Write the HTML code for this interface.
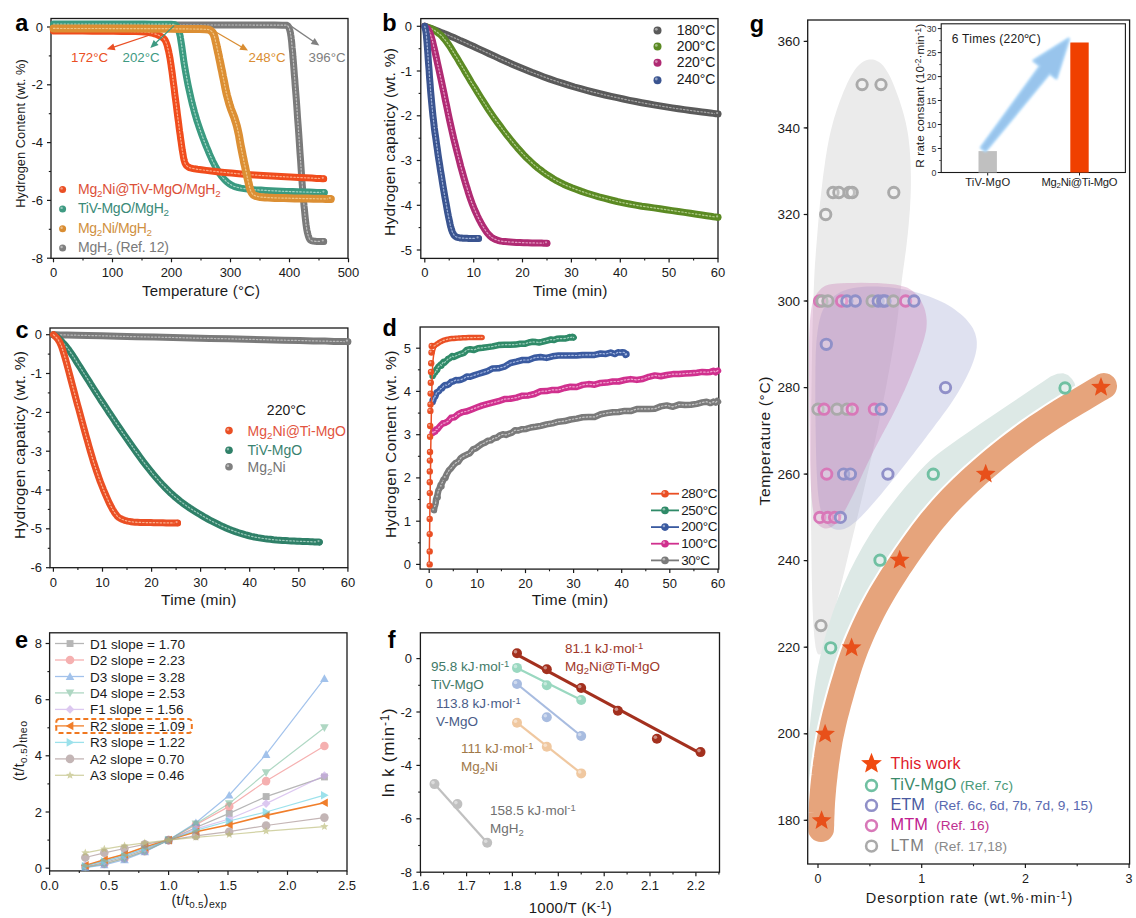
<!DOCTYPE html>
<html><head><meta charset="utf-8"><style>
html,body{margin:0;padding:0;background:#fff;}
svg{display:block;font-family:"Liberation Sans", sans-serif;}
</style></head><body>
<svg width="1136" height="918" viewBox="0 0 1136 918">
<rect width="1136" height="918" fill="#fff"/>
<rect x="51.0" y="18.5" width="297.0" height="239.8" fill="none" stroke="#1a1a1a" stroke-width="1.3"/>
<line x1="53.5" y1="258.3" x2="53.5" y2="262.3" stroke="#1a1a1a" stroke-width="1.2"/>
<text x="53.5" y="277.0" font-size="13" text-anchor="middle" fill="#1a1a1a" font-weight="normal" >0</text>
<line x1="112.5" y1="258.3" x2="112.5" y2="262.3" stroke="#1a1a1a" stroke-width="1.2"/>
<text x="112.5" y="277.0" font-size="13" text-anchor="middle" fill="#1a1a1a" font-weight="normal" >100</text>
<line x1="171.5" y1="258.3" x2="171.5" y2="262.3" stroke="#1a1a1a" stroke-width="1.2"/>
<text x="171.5" y="277.0" font-size="13" text-anchor="middle" fill="#1a1a1a" font-weight="normal" >200</text>
<line x1="230.5" y1="258.3" x2="230.5" y2="262.3" stroke="#1a1a1a" stroke-width="1.2"/>
<text x="230.5" y="277.0" font-size="13" text-anchor="middle" fill="#1a1a1a" font-weight="normal" >300</text>
<line x1="289.5" y1="258.3" x2="289.5" y2="262.3" stroke="#1a1a1a" stroke-width="1.2"/>
<text x="289.5" y="277.0" font-size="13" text-anchor="middle" fill="#1a1a1a" font-weight="normal" >400</text>
<line x1="348.5" y1="258.3" x2="348.5" y2="262.3" stroke="#1a1a1a" stroke-width="1.2"/>
<text x="348.5" y="277.0" font-size="13" text-anchor="middle" fill="#1a1a1a" font-weight="normal" >500</text>
<line x1="83.0" y1="258.3" x2="83.0" y2="260.5" stroke="#1a1a1a" stroke-width="1.1"/>
<line x1="142.0" y1="258.3" x2="142.0" y2="260.5" stroke="#1a1a1a" stroke-width="1.1"/>
<line x1="201.0" y1="258.3" x2="201.0" y2="260.5" stroke="#1a1a1a" stroke-width="1.1"/>
<line x1="260.0" y1="258.3" x2="260.0" y2="260.5" stroke="#1a1a1a" stroke-width="1.1"/>
<line x1="319.0" y1="258.3" x2="319.0" y2="260.5" stroke="#1a1a1a" stroke-width="1.1"/>
<line x1="47.0" y1="27.0" x2="51.0" y2="27.0" stroke="#1a1a1a" stroke-width="1.2"/>
<text x="43.0" y="31.5" font-size="13" text-anchor="end" fill="#1a1a1a" font-weight="normal" >0</text>
<line x1="47.0" y1="84.8" x2="51.0" y2="84.8" stroke="#1a1a1a" stroke-width="1.2"/>
<text x="43.0" y="89.3" font-size="13" text-anchor="end" fill="#1a1a1a" font-weight="normal" >-2</text>
<line x1="47.0" y1="142.6" x2="51.0" y2="142.6" stroke="#1a1a1a" stroke-width="1.2"/>
<text x="43.0" y="147.1" font-size="13" text-anchor="end" fill="#1a1a1a" font-weight="normal" >-4</text>
<line x1="47.0" y1="200.4" x2="51.0" y2="200.4" stroke="#1a1a1a" stroke-width="1.2"/>
<text x="43.0" y="204.9" font-size="13" text-anchor="end" fill="#1a1a1a" font-weight="normal" >-6</text>
<line x1="47.0" y1="258.2" x2="51.0" y2="258.2" stroke="#1a1a1a" stroke-width="1.2"/>
<text x="43.0" y="262.7" font-size="13" text-anchor="end" fill="#1a1a1a" font-weight="normal" >-8</text>
<line x1="48.8" y1="55.9" x2="51.0" y2="55.9" stroke="#1a1a1a" stroke-width="1.1"/>
<line x1="48.8" y1="113.7" x2="51.0" y2="113.7" stroke="#1a1a1a" stroke-width="1.1"/>
<line x1="48.8" y1="171.5" x2="51.0" y2="171.5" stroke="#1a1a1a" stroke-width="1.1"/>
<line x1="48.8" y1="229.3" x2="51.0" y2="229.3" stroke="#1a1a1a" stroke-width="1.1"/>
<text x="15.3" y="31.4" font-size="23.5" text-anchor="start" fill="#000" font-weight="bold" >a</text>
<text x="0" y="0" transform="translate(24.8,133.5) rotate(-90)" font-size="12.8" text-anchor="middle" fill="#1a1a1a" textLength="148.6" lengthAdjust="spacing">Hydrogen Content (wt. %)</text>
<text x="201.1" y="296.3" font-size="15" text-anchor="middle" fill="#1a1a1a" font-weight="normal"  textLength="118" lengthAdjust="spacing">Temperature (°C)</text>
<path d="M53.5,25.0 L57.1,25.0 L64.3,25.0 L75.2,25.0 L89.6,25.0 L107.7,25.0 L129.4,25.0 L154.7,25.0 L183.6,25.0 L208.9,25.0 L230.7,25.0 L249.0,25.0 L263.7,25.1 L274.8,25.1 L282.3,25.2 L286.3,25.2 L286.8,25.3 L287.2,25.5 L287.6,25.8 L288.0,26.1 L288.4,26.6 L288.7,27.2 L289.0,27.9 L289.4,28.7 L289.6,29.6 L289.9,30.7 L290.2,31.9 L290.5,33.3 L290.7,34.8 L291.0,36.5 L291.2,38.4 L291.5,40.4 L291.7,42.5 L291.9,44.9 L292.1,47.5 L292.4,50.3 L292.7,53.2 L292.9,56.4 L293.2,59.8 L293.5,63.4 L293.8,67.2 L294.1,71.2 L294.4,75.4 L294.8,79.8 L295.1,84.4 L295.5,89.3 L295.9,94.3 L296.3,99.6 L296.7,105.0 L297.1,110.8 L297.5,116.9 L298.0,123.4 L298.5,130.2 L299.0,137.4 L299.5,144.9 L300.0,152.7 L300.6,160.8 L301.1,168.6 L301.6,175.8 L302.1,182.7 L302.6,189.1 L303.1,195.0 L303.6,200.5 L304.0,205.6 L304.5,210.2 L304.9,214.5 L305.3,218.3 L305.7,221.8 L306.1,225.0 L306.5,227.7 L306.9,230.1 L307.3,232.1 L307.7,233.7 L308.1,235.2 L308.5,236.5 L308.9,237.6 L309.3,238.5 L309.8,239.3 L310.3,239.9 L310.8,240.3 L311.3,240.6 L311.9,240.8 L312.6,241.0 L313.5,241.1 L314.4,241.2 L315.4,241.3 L316.5,241.4 L317.7,241.4 L319.1,241.4 L320.2,241.4 L321.2,241.4 L322.1,241.4 L322.7,241.4 L323.2,241.4 L323.6,241.4 L323.7,241.4" fill="none" stroke="#7a7a7a" stroke-width="7" stroke-linecap="round" stroke-linejoin="round" />
<path d="M53.5,25.0 L57.1,25.0 L64.3,25.0 L75.2,25.0 L89.6,25.0 L107.7,25.0 L129.4,25.0 L154.7,25.0 L183.6,25.0 L208.9,25.0 L230.7,25.0 L249.0,25.0 L263.7,25.1 L274.8,25.1 L282.3,25.2 L286.3,25.2 L286.8,25.3 L287.2,25.5 L287.6,25.8 L288.0,26.1 L288.4,26.6 L288.7,27.2 L289.0,27.9 L289.4,28.7 L289.6,29.6 L289.9,30.7 L290.2,31.9 L290.5,33.3 L290.7,34.8 L291.0,36.5 L291.2,38.4 L291.5,40.4 L291.7,42.5 L291.9,44.9 L292.1,47.5 L292.4,50.3 L292.7,53.2 L292.9,56.4 L293.2,59.8 L293.5,63.4 L293.8,67.2 L294.1,71.2 L294.4,75.4 L294.8,79.8 L295.1,84.4 L295.5,89.3 L295.9,94.3 L296.3,99.6 L296.7,105.0 L297.1,110.8 L297.5,116.9 L298.0,123.4 L298.5,130.2 L299.0,137.4 L299.5,144.9 L300.0,152.7 L300.6,160.8 L301.1,168.6 L301.6,175.8 L302.1,182.7 L302.6,189.1 L303.1,195.0 L303.6,200.5 L304.0,205.6 L304.5,210.2 L304.9,214.5 L305.3,218.3 L305.7,221.8 L306.1,225.0 L306.5,227.7 L306.9,230.1 L307.3,232.1 L307.7,233.7 L308.1,235.2 L308.5,236.5 L308.9,237.6 L309.3,238.5 L309.8,239.3 L310.3,239.9 L310.8,240.3 L311.3,240.6 L311.9,240.8 L312.6,241.0 L313.5,241.1 L314.4,241.2 L315.4,241.3 L316.5,241.4 L317.7,241.4 L319.1,241.4 L320.2,241.4 L321.2,241.4 L322.1,241.4 L322.7,241.4 L323.2,241.4 L323.6,241.4 L323.7,241.4" fill="none" stroke="#d0d0d0" stroke-width="1.2" stroke-linecap="round" stroke-linejoin="round" stroke-dasharray="1.5 2" opacity="0.8"/>
<circle cx="323.7" cy="241.4" r="3.2" fill="#7a7a7a"/>
<circle cx="322.8" cy="240.5" r="1.1" fill="#ffffff" opacity="0.45"/>
<path d="M53.5,24.1 L55.3,24.1 L59.0,24.1 L64.6,24.1 L71.9,24.1 L81.2,24.1 L92.2,24.1 L105.1,24.1 L119.9,24.1 L132.9,24.1 L144.1,24.1 L153.5,24.2 L161.2,24.2 L167.1,24.2 L171.2,24.3 L173.6,24.4 L174.2,24.4 L174.7,24.6 L175.3,24.9 L175.8,25.2 L176.2,25.7 L176.7,26.2 L177.1,26.9 L177.5,27.6 L177.9,28.4 L178.2,29.3 L178.6,30.2 L178.9,31.1 L179.2,32.1 L179.4,33.1 L179.7,34.1 L179.9,35.1 L180.2,36.2 L180.4,37.6 L180.7,39.4 L181.0,41.4 L181.4,43.8 L181.8,46.5 L182.2,49.5 L182.7,52.9 L183.2,56.6 L183.7,60.4 L184.3,64.3 L185.0,68.3 L185.7,72.5 L186.5,76.8 L187.3,81.2 L188.2,85.7 L189.2,90.3 L190.2,94.8 L191.2,99.2 L192.2,103.5 L193.3,107.7 L194.4,111.9 L195.6,115.9 L196.7,119.8 L197.9,123.5 L199.2,127.3 L200.5,131.1 L201.9,135.0 L203.3,138.8 L204.8,142.6 L206.3,146.4 L207.9,150.2 L209.5,154.1 L211.1,157.6 L212.6,161.0 L214.2,164.1 L215.7,167.0 L217.2,169.6 L218.6,172.0 L220.1,174.2 L221.5,176.1 L222.9,177.8 L224.4,179.5 L225.8,180.9 L227.3,182.3 L228.9,183.5 L230.5,184.5 L232.0,185.4 L233.7,186.2 L235.7,186.9 L238.1,187.5 L240.9,188.1 L244.1,188.6 L247.7,189.1 L251.7,189.5 L256.1,189.9 L260.9,190.1 L265.8,190.4 L270.9,190.7 L276.1,190.9 L281.4,191.2 L286.8,191.4 L292.4,191.6 L298.1,191.8 L303.9,192.0 L309.0,192.1 L313.4,192.3 L317.0,192.4 L319.9,192.5 L322.1,192.5 L323.6,192.6 L324.3,192.6" fill="none" stroke="#3a9a80" stroke-width="7" stroke-linecap="round" stroke-linejoin="round" />
<path d="M53.5,24.1 L55.3,24.1 L59.0,24.1 L64.6,24.1 L71.9,24.1 L81.2,24.1 L92.2,24.1 L105.1,24.1 L119.9,24.1 L132.9,24.1 L144.1,24.1 L153.5,24.2 L161.2,24.2 L167.1,24.2 L171.2,24.3 L173.6,24.4 L174.2,24.4 L174.7,24.6 L175.3,24.9 L175.8,25.2 L176.2,25.7 L176.7,26.2 L177.1,26.9 L177.5,27.6 L177.9,28.4 L178.2,29.3 L178.6,30.2 L178.9,31.1 L179.2,32.1 L179.4,33.1 L179.7,34.1 L179.9,35.1 L180.2,36.2 L180.4,37.6 L180.7,39.4 L181.0,41.4 L181.4,43.8 L181.8,46.5 L182.2,49.5 L182.7,52.9 L183.2,56.6 L183.7,60.4 L184.3,64.3 L185.0,68.3 L185.7,72.5 L186.5,76.8 L187.3,81.2 L188.2,85.7 L189.2,90.3 L190.2,94.8 L191.2,99.2 L192.2,103.5 L193.3,107.7 L194.4,111.9 L195.6,115.9 L196.7,119.8 L197.9,123.5 L199.2,127.3 L200.5,131.1 L201.9,135.0 L203.3,138.8 L204.8,142.6 L206.3,146.4 L207.9,150.2 L209.5,154.1 L211.1,157.6 L212.6,161.0 L214.2,164.1 L215.7,167.0 L217.2,169.6 L218.6,172.0 L220.1,174.2 L221.5,176.1 L222.9,177.8 L224.4,179.5 L225.8,180.9 L227.3,182.3 L228.9,183.5 L230.5,184.5 L232.0,185.4 L233.7,186.2 L235.7,186.9 L238.1,187.5 L240.9,188.1 L244.1,188.6 L247.7,189.1 L251.7,189.5 L256.1,189.9 L260.9,190.1 L265.8,190.4 L270.9,190.7 L276.1,190.9 L281.4,191.2 L286.8,191.4 L292.4,191.6 L298.1,191.8 L303.9,192.0 L309.0,192.1 L313.4,192.3 L317.0,192.4 L319.9,192.5 L322.1,192.5 L323.6,192.6 L324.3,192.6" fill="none" stroke="#bfe3d6" stroke-width="1.2" stroke-linecap="round" stroke-linejoin="round" stroke-dasharray="1.5 2" opacity="0.8"/>
<circle cx="324.3" cy="192.6" r="3.2" fill="#3a9a80"/>
<circle cx="323.4" cy="191.6" r="1.1" fill="#ffffff" opacity="0.45"/>
<path d="M53.5,31.0 L54.9,31.1 L57.6,31.1 L61.8,31.1 L67.3,31.1 L74.2,31.1 L82.5,31.1 L92.2,31.2 L103.3,31.2 L113.2,31.3 L121.8,31.4 L129.3,31.5 L135.6,31.6 L140.8,31.8 L144.7,32.0 L147.4,32.2 L149.0,32.5 L150.5,32.8 L151.9,33.1 L153.2,33.4 L154.5,33.8 L155.7,34.1 L156.9,34.6 L158.0,35.0 L159.0,35.5 L160.0,35.9 L160.9,36.4 L161.7,36.9 L162.4,37.4 L163.1,38.0 L163.7,38.5 L164.2,39.0 L164.6,39.6 L165.1,40.2 L165.5,41.0 L165.9,41.9 L166.3,42.8 L166.7,44.0 L167.1,45.2 L167.5,46.5 L167.8,48.0 L168.2,49.5 L168.6,51.1 L168.9,52.7 L169.3,54.5 L169.6,56.3 L170.0,58.2 L170.3,60.2 L170.6,62.3 L171.0,64.8 L171.4,67.7 L171.9,71.0 L172.4,74.8 L172.9,78.9 L173.5,83.5 L174.2,88.6 L174.8,94.0 L175.5,99.3 L176.2,104.4 L176.8,109.3 L177.4,114.1 L178.0,118.7 L178.6,123.1 L179.1,127.3 L179.6,131.3 L180.2,135.1 L180.6,138.6 L181.1,141.8 L181.5,144.7 L181.9,147.4 L182.2,149.7 L182.6,151.8 L182.9,153.6 L183.2,155.3 L183.4,156.9 L183.7,158.3 L184.0,159.6 L184.3,160.8 L184.6,161.8 L184.9,162.7 L185.2,163.5 L185.6,164.3 L186.0,164.9 L186.6,165.6 L187.2,166.2 L187.9,166.7 L188.6,167.1 L189.5,167.6 L190.4,167.9 L192.1,168.3 L194.4,168.8 L197.6,169.3 L201.4,169.8 L206.0,170.4 L211.4,171.0 L217.4,171.7 L224.2,172.4 L231.4,173.1 L238.8,173.8 L246.6,174.4 L254.8,175.0 L263.2,175.6 L272.0,176.1 L281.1,176.6 L290.6,177.1 L298.9,177.5 L306.0,177.8 L311.9,178.1 L316.6,178.4 L320.2,178.5 L322.5,178.7 L323.7,178.7" fill="none" stroke="#f04c1c" stroke-width="7" stroke-linecap="round" stroke-linejoin="round" />
<path d="M53.5,31.0 L54.9,31.1 L57.6,31.1 L61.8,31.1 L67.3,31.1 L74.2,31.1 L82.5,31.1 L92.2,31.2 L103.3,31.2 L113.2,31.3 L121.8,31.4 L129.3,31.5 L135.6,31.6 L140.8,31.8 L144.7,32.0 L147.4,32.2 L149.0,32.5 L150.5,32.8 L151.9,33.1 L153.2,33.4 L154.5,33.8 L155.7,34.1 L156.9,34.6 L158.0,35.0 L159.0,35.5 L160.0,35.9 L160.9,36.4 L161.7,36.9 L162.4,37.4 L163.1,38.0 L163.7,38.5 L164.2,39.0 L164.6,39.6 L165.1,40.2 L165.5,41.0 L165.9,41.9 L166.3,42.8 L166.7,44.0 L167.1,45.2 L167.5,46.5 L167.8,48.0 L168.2,49.5 L168.6,51.1 L168.9,52.7 L169.3,54.5 L169.6,56.3 L170.0,58.2 L170.3,60.2 L170.6,62.3 L171.0,64.8 L171.4,67.7 L171.9,71.0 L172.4,74.8 L172.9,78.9 L173.5,83.5 L174.2,88.6 L174.8,94.0 L175.5,99.3 L176.2,104.4 L176.8,109.3 L177.4,114.1 L178.0,118.7 L178.6,123.1 L179.1,127.3 L179.6,131.3 L180.2,135.1 L180.6,138.6 L181.1,141.8 L181.5,144.7 L181.9,147.4 L182.2,149.7 L182.6,151.8 L182.9,153.6 L183.2,155.3 L183.4,156.9 L183.7,158.3 L184.0,159.6 L184.3,160.8 L184.6,161.8 L184.9,162.7 L185.2,163.5 L185.6,164.3 L186.0,164.9 L186.6,165.6 L187.2,166.2 L187.9,166.7 L188.6,167.1 L189.5,167.6 L190.4,167.9 L192.1,168.3 L194.4,168.8 L197.6,169.3 L201.4,169.8 L206.0,170.4 L211.4,171.0 L217.4,171.7 L224.2,172.4 L231.4,173.1 L238.8,173.8 L246.6,174.4 L254.8,175.0 L263.2,175.6 L272.0,176.1 L281.1,176.6 L290.6,177.1 L298.9,177.5 L306.0,177.8 L311.9,178.1 L316.6,178.4 L320.2,178.5 L322.5,178.7 L323.7,178.7" fill="none" stroke="#ffc0a0" stroke-width="1.2" stroke-linecap="round" stroke-linejoin="round" stroke-dasharray="1.5 2" opacity="0.8"/>
<circle cx="323.7" cy="178.7" r="3.2" fill="#f04c1c"/>
<circle cx="322.8" cy="177.8" r="1.1" fill="#ffffff" opacity="0.45"/>
<path d="M53.5,28.4 L55.9,28.4 L60.6,28.5 L67.8,28.5 L77.3,28.5 L89.2,28.5 L103.4,28.5 L120.1,28.6 L139.1,28.6 L155.9,28.7 L170.3,28.7 L182.4,28.9 L192.3,29.0 L199.8,29.1 L205.1,29.3 L208.0,29.5 L208.7,29.7 L209.3,30.0 L209.9,30.2 L210.5,30.5 L211.0,30.9 L211.5,31.3 L211.9,31.7 L212.3,32.1 L212.7,32.6 L213.0,33.2 L213.4,33.8 L213.7,34.6 L214.1,35.5 L214.4,36.4 L214.7,37.5 L215.0,38.7 L215.3,39.9 L215.6,41.4 L216.0,43.1 L216.5,45.1 L216.9,47.3 L217.5,49.8 L218.0,52.4 L218.7,55.3 L219.3,58.5 L220.0,61.7 L220.7,65.1 L221.4,68.6 L222.2,72.2 L222.9,76.0 L223.7,79.8 L224.5,83.8 L225.3,87.9 L226.1,91.8 L227.0,95.5 L228.0,99.1 L228.9,102.5 L229.9,105.8 L230.9,108.8 L232.0,111.7 L233.1,114.5 L234.2,117.3 L235.1,120.2 L236.0,123.1 L236.9,126.1 L237.6,129.2 L238.3,132.3 L239.0,135.5 L239.5,138.7 L240.1,142.1 L240.7,145.4 L241.4,148.9 L242.1,152.4 L242.8,156.0 L243.6,159.7 L244.3,163.4 L245.2,167.2 L245.9,170.7 L246.6,173.9 L247.2,176.8 L247.8,179.4 L248.3,181.7 L248.8,183.7 L249.1,185.4 L249.5,186.8 L249.8,188.1 L250.2,189.3 L250.6,190.5 L251.1,191.5 L251.5,192.4 L252.1,193.3 L252.6,194.0 L253.2,194.7 L254.1,195.2 L255.2,195.8 L256.6,196.2 L258.3,196.6 L260.3,197.0 L262.6,197.2 L265.1,197.4 L267.9,197.6 L271.2,197.7 L274.9,197.9 L279.2,198.0 L283.9,198.1 L289.1,198.2 L294.8,198.4 L300.9,198.5 L307.6,198.6 L313.4,198.7 L318.4,198.8 L322.5,198.8 L325.8,198.9 L328.3,198.9 L330.0,198.9 L330.8,199.0" fill="none" stroke="#dc8f34" stroke-width="8" stroke-linecap="round" stroke-linejoin="round" />
<path d="M53.5,28.4 L55.9,28.4 L60.6,28.5 L67.8,28.5 L77.3,28.5 L89.2,28.5 L103.4,28.5 L120.1,28.6 L139.1,28.6 L155.9,28.7 L170.3,28.7 L182.4,28.9 L192.3,29.0 L199.8,29.1 L205.1,29.3 L208.0,29.5 L208.7,29.7 L209.3,30.0 L209.9,30.2 L210.5,30.5 L211.0,30.9 L211.5,31.3 L211.9,31.7 L212.3,32.1 L212.7,32.6 L213.0,33.2 L213.4,33.8 L213.7,34.6 L214.1,35.5 L214.4,36.4 L214.7,37.5 L215.0,38.7 L215.3,39.9 L215.6,41.4 L216.0,43.1 L216.5,45.1 L216.9,47.3 L217.5,49.8 L218.0,52.4 L218.7,55.3 L219.3,58.5 L220.0,61.7 L220.7,65.1 L221.4,68.6 L222.2,72.2 L222.9,76.0 L223.7,79.8 L224.5,83.8 L225.3,87.9 L226.1,91.8 L227.0,95.5 L228.0,99.1 L228.9,102.5 L229.9,105.8 L230.9,108.8 L232.0,111.7 L233.1,114.5 L234.2,117.3 L235.1,120.2 L236.0,123.1 L236.9,126.1 L237.6,129.2 L238.3,132.3 L239.0,135.5 L239.5,138.7 L240.1,142.1 L240.7,145.4 L241.4,148.9 L242.1,152.4 L242.8,156.0 L243.6,159.7 L244.3,163.4 L245.2,167.2 L245.9,170.7 L246.6,173.9 L247.2,176.8 L247.8,179.4 L248.3,181.7 L248.8,183.7 L249.1,185.4 L249.5,186.8 L249.8,188.1 L250.2,189.3 L250.6,190.5 L251.1,191.5 L251.5,192.4 L252.1,193.3 L252.6,194.0 L253.2,194.7 L254.1,195.2 L255.2,195.8 L256.6,196.2 L258.3,196.6 L260.3,197.0 L262.6,197.2 L265.1,197.4 L267.9,197.6 L271.2,197.7 L274.9,197.9 L279.2,198.0 L283.9,198.1 L289.1,198.2 L294.8,198.4 L300.9,198.5 L307.6,198.6 L313.4,198.7 L318.4,198.8 L322.5,198.8 L325.8,198.9 L328.3,198.9 L330.0,198.9 L330.8,199.0" fill="none" stroke="#f5d29a" stroke-width="1.2" stroke-linecap="round" stroke-linejoin="round" stroke-dasharray="1.5 2" opacity="0.8"/>
<circle cx="330.8" cy="199.0" r="3.2" fill="#dc8f34"/>
<circle cx="329.8" cy="198.0" r="1.1" fill="#ffffff" opacity="0.45"/>
<line x1="154.3" y1="33.5" x2="111.4" y2="47.8" stroke="#ea4f24" stroke-width="1.3"/>
<path d="M106.8,49.3 L115.5,50.2 L113.3,43.4 Z" fill="#ea4f24"/>
<line x1="174.1" y1="25.6" x2="153.8" y2="44.7" stroke="#3e9a82" stroke-width="1.3"/>
<path d="M150.3,48.0 L158.6,45.1 L153.7,39.9 Z" fill="#3e9a82"/>
<line x1="213.7" y1="30.8" x2="243.8" y2="48.2" stroke="#d98d32" stroke-width="1.3"/>
<path d="M248.0,50.6 L242.9,43.5 L239.3,49.7 Z" fill="#d98d32"/>
<line x1="290.3" y1="25.6" x2="315.3" y2="42.7" stroke="#808080" stroke-width="1.3"/>
<path d="M319.3,45.4 L314.7,37.9 L310.7,43.9 Z" fill="#808080"/>
<text x="71.0" y="62.0" font-size="13.3" text-anchor="start" fill="#ea4f24" font-weight="normal" >172°C</text>
<text x="122.5" y="62.0" font-size="13.3" text-anchor="start" fill="#3e9a82" font-weight="normal" >202°C</text>
<text x="248.5" y="62.0" font-size="13.3" text-anchor="start" fill="#d98d32" font-weight="normal" >248°C</text>
<text x="308.5" y="62.0" font-size="13.3" text-anchor="start" fill="#808080" font-weight="normal" >396°C</text>
<circle cx="62.6" cy="189.5" r="3.5" fill="#ea4f24"/>
<circle cx="61.6" cy="188.4" r="1.2" fill="#ffffff" opacity="0.45"/>
<text x="78.0" y="193.8" font-size="14" text-anchor="start" fill="#dc5038" font-weight="normal"  textLength="142.6" lengthAdjust="spacing">Mg<tspan baseline-shift="-30%" font-size="70%">2</tspan>Ni@TiV-MgO/MgH<tspan baseline-shift="-30%" font-size="70%">2</tspan></text>
<circle cx="62.6" cy="209.0" r="3.5" fill="#3e9a82"/>
<circle cx="61.6" cy="207.9" r="1.2" fill="#ffffff" opacity="0.45"/>
<text x="78.0" y="213.3" font-size="14" text-anchor="start" fill="#3a8a78" font-weight="normal"  textLength="91" lengthAdjust="spacing">TiV-MgO/MgH<tspan baseline-shift="-30%" font-size="70%">2</tspan></text>
<circle cx="62.6" cy="228.8" r="3.5" fill="#d98d32"/>
<circle cx="61.6" cy="227.8" r="1.2" fill="#ffffff" opacity="0.45"/>
<text x="78.0" y="233.1" font-size="14" text-anchor="start" fill="#d09040" font-weight="normal"  textLength="74" lengthAdjust="spacing">Mg<tspan baseline-shift="-30%" font-size="70%">2</tspan>Ni/MgH<tspan baseline-shift="-30%" font-size="70%">2</tspan></text>
<circle cx="62.6" cy="248.1" r="3.5" fill="#808080"/>
<circle cx="61.6" cy="247.0" r="1.2" fill="#ffffff" opacity="0.45"/>
<text x="78.0" y="252.4" font-size="14" text-anchor="start" fill="#7a7a7a" font-weight="normal"  textLength="91" lengthAdjust="spacing">MgH<tspan baseline-shift="-30%" font-size="70%">2</tspan> (Ref. 12)</text>
<rect x="420.8" y="18.6" width="297.2" height="239.8" fill="none" stroke="#1a1a1a" stroke-width="1.3"/>
<line x1="424.8" y1="258.4" x2="424.8" y2="262.4" stroke="#1a1a1a" stroke-width="1.2"/>
<text x="424.8" y="277.0" font-size="13" text-anchor="middle" fill="#1a1a1a" font-weight="normal" >0</text>
<line x1="473.7" y1="258.4" x2="473.7" y2="262.4" stroke="#1a1a1a" stroke-width="1.2"/>
<text x="473.7" y="277.0" font-size="13" text-anchor="middle" fill="#1a1a1a" font-weight="normal" >10</text>
<line x1="522.5" y1="258.4" x2="522.5" y2="262.4" stroke="#1a1a1a" stroke-width="1.2"/>
<text x="522.5" y="277.0" font-size="13" text-anchor="middle" fill="#1a1a1a" font-weight="normal" >20</text>
<line x1="571.4" y1="258.4" x2="571.4" y2="262.4" stroke="#1a1a1a" stroke-width="1.2"/>
<text x="571.4" y="277.0" font-size="13" text-anchor="middle" fill="#1a1a1a" font-weight="normal" >30</text>
<line x1="620.3" y1="258.4" x2="620.3" y2="262.4" stroke="#1a1a1a" stroke-width="1.2"/>
<text x="620.3" y="277.0" font-size="13" text-anchor="middle" fill="#1a1a1a" font-weight="normal" >40</text>
<line x1="669.1" y1="258.4" x2="669.1" y2="262.4" stroke="#1a1a1a" stroke-width="1.2"/>
<text x="669.1" y="277.0" font-size="13" text-anchor="middle" fill="#1a1a1a" font-weight="normal" >50</text>
<line x1="718.0" y1="258.4" x2="718.0" y2="262.4" stroke="#1a1a1a" stroke-width="1.2"/>
<text x="718.0" y="277.0" font-size="13" text-anchor="middle" fill="#1a1a1a" font-weight="normal" >60</text>
<line x1="449.2" y1="258.4" x2="449.2" y2="260.6" stroke="#1a1a1a" stroke-width="1.1"/>
<line x1="498.1" y1="258.4" x2="498.1" y2="260.6" stroke="#1a1a1a" stroke-width="1.1"/>
<line x1="547.0" y1="258.4" x2="547.0" y2="260.6" stroke="#1a1a1a" stroke-width="1.1"/>
<line x1="595.8" y1="258.4" x2="595.8" y2="260.6" stroke="#1a1a1a" stroke-width="1.1"/>
<line x1="644.7" y1="258.4" x2="644.7" y2="260.6" stroke="#1a1a1a" stroke-width="1.1"/>
<line x1="693.6" y1="258.4" x2="693.6" y2="260.6" stroke="#1a1a1a" stroke-width="1.1"/>
<line x1="416.8" y1="26.3" x2="420.8" y2="26.3" stroke="#1a1a1a" stroke-width="1.2"/>
<text x="412.0" y="30.8" font-size="13" text-anchor="end" fill="#1a1a1a" font-weight="normal" >0</text>
<line x1="416.8" y1="71.0" x2="420.8" y2="71.0" stroke="#1a1a1a" stroke-width="1.2"/>
<text x="412.0" y="75.5" font-size="13" text-anchor="end" fill="#1a1a1a" font-weight="normal" >-1</text>
<line x1="416.8" y1="115.8" x2="420.8" y2="115.8" stroke="#1a1a1a" stroke-width="1.2"/>
<text x="412.0" y="120.3" font-size="13" text-anchor="end" fill="#1a1a1a" font-weight="normal" >-2</text>
<line x1="416.8" y1="160.5" x2="420.8" y2="160.5" stroke="#1a1a1a" stroke-width="1.2"/>
<text x="412.0" y="165.0" font-size="13" text-anchor="end" fill="#1a1a1a" font-weight="normal" >-3</text>
<line x1="416.8" y1="205.3" x2="420.8" y2="205.3" stroke="#1a1a1a" stroke-width="1.2"/>
<text x="412.0" y="209.8" font-size="13" text-anchor="end" fill="#1a1a1a" font-weight="normal" >-4</text>
<line x1="416.8" y1="250.0" x2="420.8" y2="250.0" stroke="#1a1a1a" stroke-width="1.2"/>
<text x="412.0" y="254.5" font-size="13" text-anchor="end" fill="#1a1a1a" font-weight="normal" >-5</text>
<line x1="418.6" y1="48.7" x2="420.8" y2="48.7" stroke="#1a1a1a" stroke-width="1.1"/>
<line x1="418.6" y1="93.4" x2="420.8" y2="93.4" stroke="#1a1a1a" stroke-width="1.1"/>
<line x1="418.6" y1="138.2" x2="420.8" y2="138.2" stroke="#1a1a1a" stroke-width="1.1"/>
<line x1="418.6" y1="182.9" x2="420.8" y2="182.9" stroke="#1a1a1a" stroke-width="1.1"/>
<line x1="418.6" y1="227.6" x2="420.8" y2="227.6" stroke="#1a1a1a" stroke-width="1.1"/>
<text x="382.3" y="31.3" font-size="23.5" text-anchor="start" fill="#000" font-weight="bold" >b</text>
<text x="0" y="0" transform="translate(395.4,142.0) rotate(-90)" font-size="15.5" text-anchor="middle" fill="#1a1a1a" textLength="188" lengthAdjust="spacing">Hydrogen capaticy (wt. %)</text>
<text x="570.2" y="296.3" font-size="15.5" text-anchor="middle" fill="#1a1a1a" font-weight="normal"  textLength="74.2" lengthAdjust="spacing">Time (min)</text>
<path d="M424.8,26.3 L425.1,26.4 L425.7,26.6 L426.6,27.0 L427.9,27.4 L429.4,28.0 L431.2,28.6 L433.4,29.4 L435.8,30.3 L438.4,31.3 L441.1,32.4 L444.0,33.6 L447.1,34.8 L450.3,36.2 L453.7,37.6 L457.2,39.1 L460.8,40.8 L464.8,42.5 L469.1,44.5 L473.7,46.5 L478.6,48.8 L483.7,51.2 L489.2,53.7 L495.1,56.4 L501.2,59.3 L507.3,62.0 L513.4,64.7 L519.5,67.3 L525.6,69.8 L531.7,72.3 L537.8,74.6 L543.9,76.9 L550.0,79.1 L556.1,81.2 L562.2,83.2 L568.4,85.1 L574.5,87.0 L580.6,88.7 L586.7,90.4 L592.8,92.0 L598.9,93.5 L605.0,95.0 L611.1,96.4 L617.2,97.7 L623.3,99.0 L629.4,100.3 L635.6,101.5 L641.7,102.7 L647.8,103.8 L653.9,104.9 L660.0,105.9 L666.1,106.9 L672.2,107.9 L678.3,108.8 L684.4,109.6 L690.5,110.5 L696.6,111.3 L702.0,111.9 L706.6,112.5 L710.4,113.0 L713.4,113.4 L715.7,113.7 L717.3,113.9 L718.0,114.0" fill="none" stroke="#5a5a5a" stroke-width="7" stroke-linecap="round" stroke-linejoin="round" />
<path d="M424.8,26.3 L425.1,26.4 L425.7,26.6 L426.6,27.0 L427.9,27.4 L429.4,28.0 L431.2,28.6 L433.4,29.4 L435.8,30.3 L438.4,31.3 L441.1,32.4 L444.0,33.6 L447.1,34.8 L450.3,36.2 L453.7,37.6 L457.2,39.1 L460.8,40.8 L464.8,42.5 L469.1,44.5 L473.7,46.5 L478.6,48.8 L483.7,51.2 L489.2,53.7 L495.1,56.4 L501.2,59.3 L507.3,62.0 L513.4,64.7 L519.5,67.3 L525.6,69.8 L531.7,72.3 L537.8,74.6 L543.9,76.9 L550.0,79.1 L556.1,81.2 L562.2,83.2 L568.4,85.1 L574.5,87.0 L580.6,88.7 L586.7,90.4 L592.8,92.0 L598.9,93.5 L605.0,95.0 L611.1,96.4 L617.2,97.7 L623.3,99.0 L629.4,100.3 L635.6,101.5 L641.7,102.7 L647.8,103.8 L653.9,104.9 L660.0,105.9 L666.1,106.9 L672.2,107.9 L678.3,108.8 L684.4,109.6 L690.5,110.5 L696.6,111.3 L702.0,111.9 L706.6,112.5 L710.4,113.0 L713.4,113.4 L715.7,113.7 L717.3,113.9 L718.0,114.0" fill="none" stroke="#b8b8b8" stroke-width="1.2" stroke-linecap="round" stroke-linejoin="round" stroke-dasharray="1.5 2" opacity="0.8"/>
<circle cx="718.0" cy="114.0" r="3.2" fill="#5a5a5a"/>
<circle cx="717.1" cy="113.0" r="1.1" fill="#ffffff" opacity="0.45"/>
<path d="M424.8,26.3 L424.9,26.3 L425.1,26.4 L425.5,26.5 L425.9,26.6 L426.5,26.8 L427.2,27.0 L428.0,27.3 L428.9,27.6 L429.9,27.9 L431.0,28.4 L432.1,29.0 L433.4,29.7 L434.7,30.5 L436.0,31.4 L437.5,32.5 L439.0,33.6 L440.6,34.9 L442.2,36.5 L443.8,38.3 L445.5,40.4 L447.2,42.6 L449.0,45.1 L450.8,47.9 L452.6,50.8 L454.4,53.8 L456.3,56.8 L458.1,59.8 L459.9,62.9 L461.8,66.0 L463.6,69.0 L465.4,72.2 L467.3,75.3 L469.2,78.6 L471.2,82.0 L473.4,85.5 L475.7,89.2 L478.0,93.0 L480.5,97.0 L483.1,101.1 L485.8,105.4 L488.5,109.6 L491.4,113.9 L494.4,118.2 L497.4,122.4 L500.6,126.7 L503.8,131.0 L507.1,135.3 L510.6,139.6 L513.9,143.7 L517.2,147.6 L520.4,151.2 L523.5,154.6 L526.5,157.7 L529.5,160.6 L532.4,163.3 L535.2,165.8 L538.1,168.2 L541.0,170.4 L544.0,172.7 L547.0,174.8 L550.2,176.8 L553.3,178.8 L556.6,180.7 L559.9,182.4 L563.5,184.2 L567.5,186.0 L571.9,187.8 L576.6,189.6 L581.6,191.4 L587.0,193.2 L592.8,195.0 L598.9,196.8 L605.0,198.4 L611.1,200.0 L617.2,201.5 L623.3,202.8 L629.4,204.0 L635.6,205.1 L641.7,206.2 L647.8,207.0 L653.9,207.9 L660.0,208.8 L666.1,209.7 L672.2,210.6 L678.3,211.5 L684.4,212.4 L690.5,213.3 L696.6,214.2 L702.0,215.0 L706.6,215.7 L710.4,216.2 L713.4,216.7 L715.7,217.0 L717.3,217.2 L718.0,217.3" fill="none" stroke="#5b8a23" stroke-width="7" stroke-linecap="round" stroke-linejoin="round" />
<path d="M424.8,26.3 L424.9,26.3 L425.1,26.4 L425.5,26.5 L425.9,26.6 L426.5,26.8 L427.2,27.0 L428.0,27.3 L428.9,27.6 L429.9,27.9 L431.0,28.4 L432.1,29.0 L433.4,29.7 L434.7,30.5 L436.0,31.4 L437.5,32.5 L439.0,33.6 L440.6,34.9 L442.2,36.5 L443.8,38.3 L445.5,40.4 L447.2,42.6 L449.0,45.1 L450.8,47.9 L452.6,50.8 L454.4,53.8 L456.3,56.8 L458.1,59.8 L459.9,62.9 L461.8,66.0 L463.6,69.0 L465.4,72.2 L467.3,75.3 L469.2,78.6 L471.2,82.0 L473.4,85.5 L475.7,89.2 L478.0,93.0 L480.5,97.0 L483.1,101.1 L485.8,105.4 L488.5,109.6 L491.4,113.9 L494.4,118.2 L497.4,122.4 L500.6,126.7 L503.8,131.0 L507.1,135.3 L510.6,139.6 L513.9,143.7 L517.2,147.6 L520.4,151.2 L523.5,154.6 L526.5,157.7 L529.5,160.6 L532.4,163.3 L535.2,165.8 L538.1,168.2 L541.0,170.4 L544.0,172.7 L547.0,174.8 L550.2,176.8 L553.3,178.8 L556.6,180.7 L559.9,182.4 L563.5,184.2 L567.5,186.0 L571.9,187.8 L576.6,189.6 L581.6,191.4 L587.0,193.2 L592.8,195.0 L598.9,196.8 L605.0,198.4 L611.1,200.0 L617.2,201.5 L623.3,202.8 L629.4,204.0 L635.6,205.1 L641.7,206.2 L647.8,207.0 L653.9,207.9 L660.0,208.8 L666.1,209.7 L672.2,210.6 L678.3,211.5 L684.4,212.4 L690.5,213.3 L696.6,214.2 L702.0,215.0 L706.6,215.7 L710.4,216.2 L713.4,216.7 L715.7,217.0 L717.3,217.2 L718.0,217.3" fill="none" stroke="#c8e0a8" stroke-width="1.2" stroke-linecap="round" stroke-linejoin="round" stroke-dasharray="1.5 2" opacity="0.8"/>
<circle cx="718.0" cy="217.3" r="3.2" fill="#5b8a23"/>
<circle cx="717.1" cy="216.4" r="1.1" fill="#ffffff" opacity="0.45"/>
<path d="M424.8,26.3 L424.9,26.3 L425.0,26.4 L425.1,26.6 L425.3,26.7 L425.6,26.9 L425.9,27.2 L426.3,27.5 L426.7,27.8 L427.2,28.2 L427.6,28.8 L428.0,29.4 L428.5,30.1 L428.9,30.9 L429.4,31.7 L429.8,32.7 L430.3,33.8 L430.8,35.4 L431.5,37.6 L432.3,40.4 L433.1,43.8 L434.1,47.8 L435.1,52.3 L436.3,57.5 L437.5,63.2 L438.8,69.0 L440.1,75.0 L441.4,81.1 L442.7,87.3 L444.1,93.7 L445.4,100.2 L446.8,106.8 L448.2,113.6 L449.6,120.2 L451.0,126.6 L452.4,132.8 L453.8,138.9 L455.3,144.8 L456.7,150.5 L458.1,156.0 L459.5,161.4 L460.8,166.6 L462.2,171.5 L463.5,176.2 L464.8,180.7 L466.0,184.9 L467.3,188.9 L468.4,192.7 L469.6,196.3 L470.8,199.8 L472.0,203.2 L473.3,206.5 L474.6,209.7 L476.0,212.8 L477.4,215.9 L478.8,218.8 L480.3,221.7 L481.7,224.3 L483.1,226.7 L484.5,228.9 L485.8,230.9 L487.1,232.7 L488.4,234.2 L489.7,235.6 L490.9,236.7 L492.2,237.7 L493.7,238.6 L495.3,239.4 L497.0,240.0 L498.8,240.6 L500.8,241.1 L502.9,241.4 L505.1,241.6 L507.5,241.8 L510.2,242.0 L513.2,242.2 L516.5,242.4 L520.0,242.5 L523.7,242.7 L527.7,242.8 L532.0,242.9 L535.8,243.0 L539.0,243.1 L541.6,243.1 L543.8,243.2 L545.4,243.2 L546.4,243.3 L547.0,243.3" fill="none" stroke="#b02a73" stroke-width="7" stroke-linecap="round" stroke-linejoin="round" />
<path d="M424.8,26.3 L424.9,26.3 L425.0,26.4 L425.1,26.6 L425.3,26.7 L425.6,26.9 L425.9,27.2 L426.3,27.5 L426.7,27.8 L427.2,28.2 L427.6,28.8 L428.0,29.4 L428.5,30.1 L428.9,30.9 L429.4,31.7 L429.8,32.7 L430.3,33.8 L430.8,35.4 L431.5,37.6 L432.3,40.4 L433.1,43.8 L434.1,47.8 L435.1,52.3 L436.3,57.5 L437.5,63.2 L438.8,69.0 L440.1,75.0 L441.4,81.1 L442.7,87.3 L444.1,93.7 L445.4,100.2 L446.8,106.8 L448.2,113.6 L449.6,120.2 L451.0,126.6 L452.4,132.8 L453.8,138.9 L455.3,144.8 L456.7,150.5 L458.1,156.0 L459.5,161.4 L460.8,166.6 L462.2,171.5 L463.5,176.2 L464.8,180.7 L466.0,184.9 L467.3,188.9 L468.4,192.7 L469.6,196.3 L470.8,199.8 L472.0,203.2 L473.3,206.5 L474.6,209.7 L476.0,212.8 L477.4,215.9 L478.8,218.8 L480.3,221.7 L481.7,224.3 L483.1,226.7 L484.5,228.9 L485.8,230.9 L487.1,232.7 L488.4,234.2 L489.7,235.6 L490.9,236.7 L492.2,237.7 L493.7,238.6 L495.3,239.4 L497.0,240.0 L498.8,240.6 L500.8,241.1 L502.9,241.4 L505.1,241.6 L507.5,241.8 L510.2,242.0 L513.2,242.2 L516.5,242.4 L520.0,242.5 L523.7,242.7 L527.7,242.8 L532.0,242.9 L535.8,243.0 L539.0,243.1 L541.6,243.1 L543.8,243.2 L545.4,243.2 L546.4,243.3 L547.0,243.3" fill="none" stroke="#f0b8d8" stroke-width="1.2" stroke-linecap="round" stroke-linejoin="round" stroke-dasharray="1.5 2" opacity="0.8"/>
<circle cx="547.0" cy="243.3" r="3.2" fill="#b02a73"/>
<circle cx="546.0" cy="242.3" r="1.1" fill="#ffffff" opacity="0.45"/>
<path d="M424.8,26.3 L424.8,26.4 L424.9,26.6 L424.9,26.9 L425.0,27.3 L425.1,27.9 L425.3,28.5 L425.4,29.2 L425.6,30.1 L425.8,31.1 L426.0,32.3 L426.2,33.7 L426.4,35.3 L426.5,37.1 L426.7,39.1 L426.9,41.2 L427.1,43.6 L427.3,46.5 L427.6,50.1 L427.9,54.2 L428.2,59.0 L428.6,64.3 L429.1,70.3 L429.5,76.9 L430.1,84.0 L430.6,90.9 L431.2,97.6 L431.8,104.1 L432.4,110.3 L433.0,116.3 L433.7,122.1 L434.3,127.7 L435.0,133.0 L435.8,138.3 L436.5,143.6 L437.3,149.0 L438.0,154.3 L438.8,159.6 L439.7,165.0 L440.5,170.4 L441.4,175.7 L442.2,180.9 L443.0,185.9 L443.8,190.7 L444.6,195.4 L445.4,199.8 L446.2,204.1 L446.9,208.2 L447.6,212.1 L448.3,215.7 L449.0,218.9 L449.6,221.7 L450.1,224.2 L450.6,226.4 L451.1,228.1 L451.5,229.6 L451.9,230.6 L452.2,231.6 L452.6,232.5 L453.0,233.3 L453.4,234.0 L453.8,234.7 L454.2,235.2 L454.6,235.7 L455.1,236.1 L455.6,236.5 L456.1,236.8 L456.7,237.1 L457.4,237.3 L458.1,237.5 L458.9,237.7 L459.8,237.9 L460.7,238.0 L461.7,238.1 L462.9,238.2 L464.1,238.2 L465.5,238.3 L467.0,238.3 L468.6,238.4 L470.3,238.4 L472.1,238.4 L473.7,238.4 L475.1,238.4 L476.3,238.4 L477.2,238.4 L477.9,238.4 L478.3,238.4 L478.6,238.4" fill="none" stroke="#3a5490" stroke-width="7" stroke-linecap="round" stroke-linejoin="round" />
<path d="M424.8,26.3 L424.8,26.4 L424.9,26.6 L424.9,26.9 L425.0,27.3 L425.1,27.9 L425.3,28.5 L425.4,29.2 L425.6,30.1 L425.8,31.1 L426.0,32.3 L426.2,33.7 L426.4,35.3 L426.5,37.1 L426.7,39.1 L426.9,41.2 L427.1,43.6 L427.3,46.5 L427.6,50.1 L427.9,54.2 L428.2,59.0 L428.6,64.3 L429.1,70.3 L429.5,76.9 L430.1,84.0 L430.6,90.9 L431.2,97.6 L431.8,104.1 L432.4,110.3 L433.0,116.3 L433.7,122.1 L434.3,127.7 L435.0,133.0 L435.8,138.3 L436.5,143.6 L437.3,149.0 L438.0,154.3 L438.8,159.6 L439.7,165.0 L440.5,170.4 L441.4,175.7 L442.2,180.9 L443.0,185.9 L443.8,190.7 L444.6,195.4 L445.4,199.8 L446.2,204.1 L446.9,208.2 L447.6,212.1 L448.3,215.7 L449.0,218.9 L449.6,221.7 L450.1,224.2 L450.6,226.4 L451.1,228.1 L451.5,229.6 L451.9,230.6 L452.2,231.6 L452.6,232.5 L453.0,233.3 L453.4,234.0 L453.8,234.7 L454.2,235.2 L454.6,235.7 L455.1,236.1 L455.6,236.5 L456.1,236.8 L456.7,237.1 L457.4,237.3 L458.1,237.5 L458.9,237.7 L459.8,237.9 L460.7,238.0 L461.7,238.1 L462.9,238.2 L464.1,238.2 L465.5,238.3 L467.0,238.3 L468.6,238.4 L470.3,238.4 L472.1,238.4 L473.7,238.4 L475.1,238.4 L476.3,238.4 L477.2,238.4 L477.9,238.4 L478.3,238.4 L478.6,238.4" fill="none" stroke="#b8c8e8" stroke-width="1.2" stroke-linecap="round" stroke-linejoin="round" stroke-dasharray="1.5 2" opacity="0.8"/>
<circle cx="478.6" cy="238.4" r="3.2" fill="#3a5490"/>
<circle cx="477.6" cy="237.4" r="1.1" fill="#ffffff" opacity="0.45"/>
<circle cx="657.5" cy="30.5" r="4" fill="#5a5a5a"/>
<circle cx="656.3" cy="29.3" r="1.4" fill="#ffffff" opacity="0.45"/>
<text x="676.8" y="34.7" font-size="14" text-anchor="start" fill="#1a1a1a" font-weight="normal"  textLength="38.5" lengthAdjust="spacing">180°C</text>
<circle cx="657.5" cy="46.6" r="4" fill="#5b8a23"/>
<circle cx="656.3" cy="45.4" r="1.4" fill="#ffffff" opacity="0.45"/>
<text x="676.8" y="50.8" font-size="14" text-anchor="start" fill="#1a1a1a" font-weight="normal"  textLength="38.5" lengthAdjust="spacing">200°C</text>
<circle cx="657.5" cy="62.8" r="4" fill="#b02a73"/>
<circle cx="656.3" cy="61.6" r="1.4" fill="#ffffff" opacity="0.45"/>
<text x="676.8" y="67.0" font-size="14" text-anchor="start" fill="#1a1a1a" font-weight="normal"  textLength="38.5" lengthAdjust="spacing">220°C</text>
<circle cx="657.5" cy="80.2" r="4" fill="#3a5490"/>
<circle cx="656.3" cy="79.0" r="1.4" fill="#ffffff" opacity="0.45"/>
<text x="676.8" y="84.4" font-size="14" text-anchor="start" fill="#1a1a1a" font-weight="normal"  textLength="38.5" lengthAdjust="spacing">240°C</text>
<rect x="50.0" y="328.0" width="297.9" height="239.7" fill="none" stroke="#1a1a1a" stroke-width="1.3"/>
<line x1="53.4" y1="567.7" x2="53.4" y2="571.7" stroke="#1a1a1a" stroke-width="1.2"/>
<text x="53.4" y="586.5" font-size="13" text-anchor="middle" fill="#1a1a1a" font-weight="normal" >0</text>
<line x1="102.5" y1="567.7" x2="102.5" y2="571.7" stroke="#1a1a1a" stroke-width="1.2"/>
<text x="102.5" y="586.5" font-size="13" text-anchor="middle" fill="#1a1a1a" font-weight="normal" >10</text>
<line x1="151.6" y1="567.7" x2="151.6" y2="571.7" stroke="#1a1a1a" stroke-width="1.2"/>
<text x="151.6" y="586.5" font-size="13" text-anchor="middle" fill="#1a1a1a" font-weight="normal" >20</text>
<line x1="200.6" y1="567.7" x2="200.6" y2="571.7" stroke="#1a1a1a" stroke-width="1.2"/>
<text x="200.6" y="586.5" font-size="13" text-anchor="middle" fill="#1a1a1a" font-weight="normal" >30</text>
<line x1="249.7" y1="567.7" x2="249.7" y2="571.7" stroke="#1a1a1a" stroke-width="1.2"/>
<text x="249.7" y="586.5" font-size="13" text-anchor="middle" fill="#1a1a1a" font-weight="normal" >40</text>
<line x1="298.8" y1="567.7" x2="298.8" y2="571.7" stroke="#1a1a1a" stroke-width="1.2"/>
<text x="298.8" y="586.5" font-size="13" text-anchor="middle" fill="#1a1a1a" font-weight="normal" >50</text>
<line x1="347.9" y1="567.7" x2="347.9" y2="571.7" stroke="#1a1a1a" stroke-width="1.2"/>
<text x="347.9" y="586.5" font-size="13" text-anchor="middle" fill="#1a1a1a" font-weight="normal" >60</text>
<line x1="77.9" y1="567.7" x2="77.9" y2="569.9" stroke="#1a1a1a" stroke-width="1.1"/>
<line x1="127.0" y1="567.7" x2="127.0" y2="569.9" stroke="#1a1a1a" stroke-width="1.1"/>
<line x1="176.1" y1="567.7" x2="176.1" y2="569.9" stroke="#1a1a1a" stroke-width="1.1"/>
<line x1="225.2" y1="567.7" x2="225.2" y2="569.9" stroke="#1a1a1a" stroke-width="1.1"/>
<line x1="274.3" y1="567.7" x2="274.3" y2="569.9" stroke="#1a1a1a" stroke-width="1.1"/>
<line x1="323.3" y1="567.7" x2="323.3" y2="569.9" stroke="#1a1a1a" stroke-width="1.1"/>
<line x1="46.0" y1="334.7" x2="50.0" y2="334.7" stroke="#1a1a1a" stroke-width="1.2"/>
<text x="42.0" y="339.2" font-size="13" text-anchor="end" fill="#1a1a1a" font-weight="normal" >0</text>
<line x1="46.0" y1="373.5" x2="50.0" y2="373.5" stroke="#1a1a1a" stroke-width="1.2"/>
<text x="42.0" y="378.0" font-size="13" text-anchor="end" fill="#1a1a1a" font-weight="normal" >-1</text>
<line x1="46.0" y1="412.4" x2="50.0" y2="412.4" stroke="#1a1a1a" stroke-width="1.2"/>
<text x="42.0" y="416.9" font-size="13" text-anchor="end" fill="#1a1a1a" font-weight="normal" >-2</text>
<line x1="46.0" y1="451.2" x2="50.0" y2="451.2" stroke="#1a1a1a" stroke-width="1.2"/>
<text x="42.0" y="455.7" font-size="13" text-anchor="end" fill="#1a1a1a" font-weight="normal" >-3</text>
<line x1="46.0" y1="490.0" x2="50.0" y2="490.0" stroke="#1a1a1a" stroke-width="1.2"/>
<text x="42.0" y="494.5" font-size="13" text-anchor="end" fill="#1a1a1a" font-weight="normal" >-4</text>
<line x1="46.0" y1="528.8" x2="50.0" y2="528.8" stroke="#1a1a1a" stroke-width="1.2"/>
<text x="42.0" y="533.3" font-size="13" text-anchor="end" fill="#1a1a1a" font-weight="normal" >-5</text>
<line x1="46.0" y1="567.7" x2="50.0" y2="567.7" stroke="#1a1a1a" stroke-width="1.2"/>
<text x="42.0" y="572.2" font-size="13" text-anchor="end" fill="#1a1a1a" font-weight="normal" >-6</text>
<line x1="47.8" y1="354.1" x2="50.0" y2="354.1" stroke="#1a1a1a" stroke-width="1.1"/>
<line x1="47.8" y1="392.9" x2="50.0" y2="392.9" stroke="#1a1a1a" stroke-width="1.1"/>
<line x1="47.8" y1="431.8" x2="50.0" y2="431.8" stroke="#1a1a1a" stroke-width="1.1"/>
<line x1="47.8" y1="470.6" x2="50.0" y2="470.6" stroke="#1a1a1a" stroke-width="1.1"/>
<line x1="47.8" y1="509.4" x2="50.0" y2="509.4" stroke="#1a1a1a" stroke-width="1.1"/>
<line x1="47.8" y1="548.3" x2="50.0" y2="548.3" stroke="#1a1a1a" stroke-width="1.1"/>
<text x="15.4" y="337.5" font-size="23.5" text-anchor="start" fill="#000" font-weight="bold" >c</text>
<text x="0" y="0" transform="translate(25.0,445.0) rotate(-90)" font-size="15.5" text-anchor="middle" fill="#1a1a1a" textLength="188" lengthAdjust="spacing">Hydrogen capaticy (wt. %)</text>
<text x="198.7" y="604.9" font-size="15.5" text-anchor="middle" fill="#1a1a1a" font-weight="normal"  textLength="75.2" lengthAdjust="spacing">Time (min)</text>
<path d="M53.4,334.7 L55.7,334.8 L60.3,334.9 L67.2,335.0 L76.4,335.2 L87.9,335.5 L101.7,335.8 L117.8,336.2 L136.2,336.7 L154.6,337.1 L173.0,337.5 L191.4,338.0 L209.8,338.4 L228.2,338.8 L246.7,339.3 L265.1,339.7 L283.5,340.2 L299.6,340.5 L313.4,340.9 L324.9,341.1 L334.1,341.4 L341.0,341.5 L345.6,341.6 L347.9,341.7" fill="none" stroke="#7a7a7a" stroke-width="7" stroke-linecap="round" stroke-linejoin="round" />
<path d="M53.4,334.7 L55.7,334.8 L60.3,334.9 L67.2,335.0 L76.4,335.2 L87.9,335.5 L101.7,335.8 L117.8,336.2 L136.2,336.7 L154.6,337.1 L173.0,337.5 L191.4,338.0 L209.8,338.4 L228.2,338.8 L246.7,339.3 L265.1,339.7 L283.5,340.2 L299.6,340.5 L313.4,340.9 L324.9,341.1 L334.1,341.4 L341.0,341.5 L345.6,341.6 L347.9,341.7" fill="none" stroke="#c8c8c8" stroke-width="1.2" stroke-linecap="round" stroke-linejoin="round" stroke-dasharray="1.5 2" opacity="0.8"/>
<circle cx="347.9" cy="341.7" r="3.2" fill="#7a7a7a"/>
<circle cx="346.9" cy="340.7" r="1.1" fill="#ffffff" opacity="0.45"/>
<path d="M53.4,334.7 L53.5,334.7 L53.6,334.8 L53.9,335.0 L54.2,335.2 L54.6,335.4 L55.0,335.7 L55.5,336.1 L56.2,336.4 L56.9,337.0 L57.6,337.6 L58.5,338.3 L59.4,339.2 L60.4,340.2 L61.5,341.3 L62.7,342.6 L64.0,343.9 L65.3,345.5 L66.7,347.2 L68.2,349.1 L69.7,351.2 L71.3,353.5 L73.0,356.0 L74.7,358.7 L76.5,361.6 L78.4,364.6 L80.4,367.7 L82.4,370.9 L84.6,374.3 L86.8,377.8 L89.1,381.4 L91.4,385.2 L93.9,389.1 L96.4,393.0 L98.9,397.0 L101.5,401.0 L104.2,405.0 L106.9,409.1 L109.6,413.3 L112.4,417.4 L115.2,421.7 L118.1,425.9 L121.0,430.2 L124.0,434.6 L127.1,439.0 L130.2,443.5 L133.4,448.0 L136.7,452.6 L140.0,457.2 L143.2,461.6 L146.5,465.9 L149.7,469.9 L152.8,473.8 L156.0,477.5 L159.0,481.0 L162.1,484.4 L165.1,487.5 L168.1,490.5 L171.1,493.4 L174.2,496.2 L177.3,498.8 L180.3,501.3 L183.4,503.6 L186.6,505.9 L189.7,508.0 L192.8,510.0 L195.9,511.9 L198.9,513.8 L202.0,515.6 L205.0,517.4 L208.0,519.1 L210.9,520.7 L213.9,522.2 L216.9,523.7 L219.9,525.2 L222.9,526.6 L226.0,527.9 L229.1,529.2 L232.2,530.4 L235.4,531.6 L238.6,532.7 L241.7,533.7 L244.9,534.7 L248.1,535.5 L251.3,536.3 L254.5,537.0 L257.7,537.6 L260.9,538.1 L264.1,538.6 L267.2,539.0 L270.4,539.3 L273.5,539.7 L276.5,540.0 L279.6,540.2 L282.6,540.4 L285.5,540.6 L288.5,540.8 L291.4,540.9 L294.2,541.0 L297.1,541.2 L299.8,541.3 L302.5,541.4 L305.2,541.5 L307.8,541.6 L310.4,541.7 L312.6,541.8 L314.6,541.9 L316.2,541.9 L317.5,542.0 L318.4,542.0 L319.1,542.0 L319.4,542.1" fill="none" stroke="#2f8068" stroke-width="7" stroke-linecap="round" stroke-linejoin="round" />
<path d="M53.4,334.7 L53.5,334.7 L53.6,334.8 L53.9,335.0 L54.2,335.2 L54.6,335.4 L55.0,335.7 L55.5,336.1 L56.2,336.4 L56.9,337.0 L57.6,337.6 L58.5,338.3 L59.4,339.2 L60.4,340.2 L61.5,341.3 L62.7,342.6 L64.0,343.9 L65.3,345.5 L66.7,347.2 L68.2,349.1 L69.7,351.2 L71.3,353.5 L73.0,356.0 L74.7,358.7 L76.5,361.6 L78.4,364.6 L80.4,367.7 L82.4,370.9 L84.6,374.3 L86.8,377.8 L89.1,381.4 L91.4,385.2 L93.9,389.1 L96.4,393.0 L98.9,397.0 L101.5,401.0 L104.2,405.0 L106.9,409.1 L109.6,413.3 L112.4,417.4 L115.2,421.7 L118.1,425.9 L121.0,430.2 L124.0,434.6 L127.1,439.0 L130.2,443.5 L133.4,448.0 L136.7,452.6 L140.0,457.2 L143.2,461.6 L146.5,465.9 L149.7,469.9 L152.8,473.8 L156.0,477.5 L159.0,481.0 L162.1,484.4 L165.1,487.5 L168.1,490.5 L171.1,493.4 L174.2,496.2 L177.3,498.8 L180.3,501.3 L183.4,503.6 L186.6,505.9 L189.7,508.0 L192.8,510.0 L195.9,511.9 L198.9,513.8 L202.0,515.6 L205.0,517.4 L208.0,519.1 L210.9,520.7 L213.9,522.2 L216.9,523.7 L219.9,525.2 L222.9,526.6 L226.0,527.9 L229.1,529.2 L232.2,530.4 L235.4,531.6 L238.6,532.7 L241.7,533.7 L244.9,534.7 L248.1,535.5 L251.3,536.3 L254.5,537.0 L257.7,537.6 L260.9,538.1 L264.1,538.6 L267.2,539.0 L270.4,539.3 L273.5,539.7 L276.5,540.0 L279.6,540.2 L282.6,540.4 L285.5,540.6 L288.5,540.8 L291.4,540.9 L294.2,541.0 L297.1,541.2 L299.8,541.3 L302.5,541.4 L305.2,541.5 L307.8,541.6 L310.4,541.7 L312.6,541.8 L314.6,541.9 L316.2,541.9 L317.5,542.0 L318.4,542.0 L319.1,542.0 L319.4,542.1" fill="none" stroke="#b8dccf" stroke-width="1.2" stroke-linecap="round" stroke-linejoin="round" stroke-dasharray="1.5 2" opacity="0.8"/>
<circle cx="319.4" cy="542.1" r="3.2" fill="#2f8068"/>
<circle cx="318.5" cy="541.1" r="1.1" fill="#ffffff" opacity="0.45"/>
<path d="M53.4,334.7 L53.5,334.8 L53.6,334.9 L53.9,335.1 L54.2,335.4 L54.6,335.8 L55.0,336.2 L55.5,336.7 L56.2,337.3 L56.8,338.0 L57.4,338.7 L58.0,339.5 L58.5,340.4 L59.1,341.3 L59.7,342.3 L60.2,343.4 L60.8,344.6 L61.5,346.3 L62.2,348.5 L63.1,351.2 L64.1,354.5 L65.2,358.3 L66.4,362.5 L67.7,367.4 L69.1,372.7 L70.5,378.0 L71.9,383.4 L73.3,388.7 L74.7,394.0 L76.1,399.3 L77.5,404.6 L79.0,409.9 L80.4,415.2 L81.8,420.4 L83.2,425.7 L84.6,430.8 L86.0,435.9 L87.5,441.0 L88.9,446.1 L90.3,451.0 L91.8,456.0 L93.2,460.8 L94.7,465.4 L96.1,469.8 L97.6,474.0 L99.0,478.1 L100.4,482.0 L101.9,485.7 L103.3,489.3 L104.7,492.6 L106.0,495.6 L107.2,498.3 L108.3,500.8 L109.3,503.1 L110.3,505.0 L111.2,506.8 L112.0,508.2 L112.7,509.6 L113.5,510.8 L114.2,512.0 L114.9,513.1 L115.6,514.0 L116.3,514.9 L116.9,515.7 L117.5,516.4 L118.2,517.0 L119.0,517.6 L119.9,518.2 L121.0,518.8 L122.1,519.3 L123.3,519.8 L124.6,520.3 L126.0,520.7 L127.6,521.1 L129.3,521.4 L131.1,521.7 L133.1,522.0 L135.2,522.2 L137.5,522.3 L140.0,522.4 L142.5,522.5 L145.2,522.5 L147.9,522.6 L150.8,522.6 L153.7,522.7 L156.7,522.7 L159.8,522.8 L162.9,522.8 L166.2,522.9 L169.0,522.9 L171.5,522.9 L173.5,523.0 L175.1,523.0 L176.4,523.0 L177.2,523.0 L177.6,523.0" fill="none" stroke="#ea4f24" stroke-width="7" stroke-linecap="round" stroke-linejoin="round" />
<path d="M53.4,334.7 L53.5,334.8 L53.6,334.9 L53.9,335.1 L54.2,335.4 L54.6,335.8 L55.0,336.2 L55.5,336.7 L56.2,337.3 L56.8,338.0 L57.4,338.7 L58.0,339.5 L58.5,340.4 L59.1,341.3 L59.7,342.3 L60.2,343.4 L60.8,344.6 L61.5,346.3 L62.2,348.5 L63.1,351.2 L64.1,354.5 L65.2,358.3 L66.4,362.5 L67.7,367.4 L69.1,372.7 L70.5,378.0 L71.9,383.4 L73.3,388.7 L74.7,394.0 L76.1,399.3 L77.5,404.6 L79.0,409.9 L80.4,415.2 L81.8,420.4 L83.2,425.7 L84.6,430.8 L86.0,435.9 L87.5,441.0 L88.9,446.1 L90.3,451.0 L91.8,456.0 L93.2,460.8 L94.7,465.4 L96.1,469.8 L97.6,474.0 L99.0,478.1 L100.4,482.0 L101.9,485.7 L103.3,489.3 L104.7,492.6 L106.0,495.6 L107.2,498.3 L108.3,500.8 L109.3,503.1 L110.3,505.0 L111.2,506.8 L112.0,508.2 L112.7,509.6 L113.5,510.8 L114.2,512.0 L114.9,513.1 L115.6,514.0 L116.3,514.9 L116.9,515.7 L117.5,516.4 L118.2,517.0 L119.0,517.6 L119.9,518.2 L121.0,518.8 L122.1,519.3 L123.3,519.8 L124.6,520.3 L126.0,520.7 L127.6,521.1 L129.3,521.4 L131.1,521.7 L133.1,522.0 L135.2,522.2 L137.5,522.3 L140.0,522.4 L142.5,522.5 L145.2,522.5 L147.9,522.6 L150.8,522.6 L153.7,522.7 L156.7,522.7 L159.8,522.8 L162.9,522.8 L166.2,522.9 L169.0,522.9 L171.5,522.9 L173.5,523.0 L175.1,523.0 L176.4,523.0 L177.2,523.0 L177.6,523.0" fill="none" stroke="#ffc8a8" stroke-width="1.2" stroke-linecap="round" stroke-linejoin="round" stroke-dasharray="1.5 2" opacity="0.8"/>
<circle cx="177.6" cy="523.0" r="3.2" fill="#ea4f24"/>
<circle cx="176.6" cy="522.1" r="1.1" fill="#ffffff" opacity="0.45"/>
<text x="286.4" y="414.5" font-size="14" text-anchor="middle" fill="#1a1a1a" font-weight="normal" >220°C</text>
<circle cx="229.0" cy="430.6" r="3.8" fill="#ea4f24"/>
<circle cx="227.9" cy="429.5" r="1.3" fill="#ffffff" opacity="0.45"/>
<text x="247.5" y="435.6" font-size="14" text-anchor="start" fill="#e25440" font-weight="normal" >Mg<tspan baseline-shift="-30%" font-size="70%">2</tspan>Ni@Ti-MgO</text>
<circle cx="229.0" cy="450.2" r="3.8" fill="#2f8068"/>
<circle cx="227.9" cy="449.1" r="1.3" fill="#ffffff" opacity="0.45"/>
<text x="247.5" y="455.2" font-size="14" text-anchor="start" fill="#3a8270" font-weight="normal" >TiV-MgO</text>
<circle cx="229.0" cy="466.8" r="3.8" fill="#808080"/>
<circle cx="227.9" cy="465.7" r="1.3" fill="#ffffff" opacity="0.45"/>
<text x="247.5" y="471.8" font-size="14" text-anchor="start" fill="#747474" font-weight="normal" >Mg<tspan baseline-shift="-30%" font-size="70%">2</tspan>Ni</text>
<rect x="420.1" y="327.0" width="298.7" height="242.1" fill="none" stroke="#1a1a1a" stroke-width="1.3"/>
<line x1="429.2" y1="569.1" x2="429.2" y2="573.1" stroke="#1a1a1a" stroke-width="1.2"/>
<text x="429.2" y="587.5" font-size="13" text-anchor="middle" fill="#1a1a1a" font-weight="normal" >0</text>
<line x1="477.3" y1="569.1" x2="477.3" y2="573.1" stroke="#1a1a1a" stroke-width="1.2"/>
<text x="477.3" y="587.5" font-size="13" text-anchor="middle" fill="#1a1a1a" font-weight="normal" >10</text>
<line x1="525.5" y1="569.1" x2="525.5" y2="573.1" stroke="#1a1a1a" stroke-width="1.2"/>
<text x="525.5" y="587.5" font-size="13" text-anchor="middle" fill="#1a1a1a" font-weight="normal" >20</text>
<line x1="573.6" y1="569.1" x2="573.6" y2="573.1" stroke="#1a1a1a" stroke-width="1.2"/>
<text x="573.6" y="587.5" font-size="13" text-anchor="middle" fill="#1a1a1a" font-weight="normal" >30</text>
<line x1="621.7" y1="569.1" x2="621.7" y2="573.1" stroke="#1a1a1a" stroke-width="1.2"/>
<text x="621.7" y="587.5" font-size="13" text-anchor="middle" fill="#1a1a1a" font-weight="normal" >40</text>
<line x1="669.8" y1="569.1" x2="669.8" y2="573.1" stroke="#1a1a1a" stroke-width="1.2"/>
<text x="669.8" y="587.5" font-size="13" text-anchor="middle" fill="#1a1a1a" font-weight="normal" >50</text>
<line x1="718.0" y1="569.1" x2="718.0" y2="573.1" stroke="#1a1a1a" stroke-width="1.2"/>
<text x="718.0" y="587.5" font-size="13" text-anchor="middle" fill="#1a1a1a" font-weight="normal" >60</text>
<line x1="453.3" y1="569.1" x2="453.3" y2="571.3" stroke="#1a1a1a" stroke-width="1.1"/>
<line x1="501.4" y1="569.1" x2="501.4" y2="571.3" stroke="#1a1a1a" stroke-width="1.1"/>
<line x1="549.5" y1="569.1" x2="549.5" y2="571.3" stroke="#1a1a1a" stroke-width="1.1"/>
<line x1="597.7" y1="569.1" x2="597.7" y2="571.3" stroke="#1a1a1a" stroke-width="1.1"/>
<line x1="645.8" y1="569.1" x2="645.8" y2="571.3" stroke="#1a1a1a" stroke-width="1.1"/>
<line x1="693.9" y1="569.1" x2="693.9" y2="571.3" stroke="#1a1a1a" stroke-width="1.1"/>
<line x1="416.1" y1="564.4" x2="420.1" y2="564.4" stroke="#1a1a1a" stroke-width="1.2"/>
<text x="411.0" y="568.9" font-size="13" text-anchor="end" fill="#1a1a1a" font-weight="normal" >0</text>
<line x1="416.1" y1="521.2" x2="420.1" y2="521.2" stroke="#1a1a1a" stroke-width="1.2"/>
<text x="411.0" y="525.7" font-size="13" text-anchor="end" fill="#1a1a1a" font-weight="normal" >1</text>
<line x1="416.1" y1="477.9" x2="420.1" y2="477.9" stroke="#1a1a1a" stroke-width="1.2"/>
<text x="411.0" y="482.4" font-size="13" text-anchor="end" fill="#1a1a1a" font-weight="normal" >2</text>
<line x1="416.1" y1="434.7" x2="420.1" y2="434.7" stroke="#1a1a1a" stroke-width="1.2"/>
<text x="411.0" y="439.2" font-size="13" text-anchor="end" fill="#1a1a1a" font-weight="normal" >3</text>
<line x1="416.1" y1="391.4" x2="420.1" y2="391.4" stroke="#1a1a1a" stroke-width="1.2"/>
<text x="411.0" y="395.9" font-size="13" text-anchor="end" fill="#1a1a1a" font-weight="normal" >4</text>
<line x1="416.1" y1="348.2" x2="420.1" y2="348.2" stroke="#1a1a1a" stroke-width="1.2"/>
<text x="411.0" y="352.7" font-size="13" text-anchor="end" fill="#1a1a1a" font-weight="normal" >5</text>
<line x1="417.9" y1="542.8" x2="420.1" y2="542.8" stroke="#1a1a1a" stroke-width="1.1"/>
<line x1="417.9" y1="499.5" x2="420.1" y2="499.5" stroke="#1a1a1a" stroke-width="1.1"/>
<line x1="417.9" y1="456.3" x2="420.1" y2="456.3" stroke="#1a1a1a" stroke-width="1.1"/>
<line x1="417.9" y1="413.1" x2="420.1" y2="413.1" stroke="#1a1a1a" stroke-width="1.1"/>
<line x1="417.9" y1="369.8" x2="420.1" y2="369.8" stroke="#1a1a1a" stroke-width="1.1"/>
<text x="382.5" y="336.4" font-size="23.5" text-anchor="start" fill="#000" font-weight="bold" >d</text>
<text x="0" y="0" transform="translate(396.0,444.3) rotate(-90)" font-size="15.5" text-anchor="middle" fill="#1a1a1a" textLength="187.4" lengthAdjust="spacing">Hydrogen Content (wt. %)</text>
<text x="569.9" y="604.6" font-size="15.5" text-anchor="middle" fill="#1a1a1a" font-weight="normal"  textLength="76.3" lengthAdjust="spacing">Time (min)</text>
<path d="M434.0,510.1 L434.1,509.0 L434.2,508.7 L434.5,507.2 L434.8,505.8 L435.1,505.3 L435.6,503.3 L436.1,499.1 L436.7,497.6 L437.5,494.9 L438.4,490.4 L439.4,488.7 L440.6,485.1 L442.0,482.9 L443.5,479.7 L445.1,477.8 L446.9,473.8 L448.9,470.4 L451.0,468.4 L453.3,465.3 L455.7,462.9 L458.2,461.8 L460.9,457.9 L463.8,456.1 L466.8,454.6 L469.8,453.2 L472.8,449.4 L475.8,448.4 L478.8,446.1 L481.8,444.0 L484.9,442.8 L487.9,440.8 L490.9,440.4 L493.9,438.2 L496.9,437.6 L499.9,435.3 L502.9,434.3 L505.9,434.9 L508.9,433.8 L511.9,432.7 L514.9,430.2 L518.3,430.5 L522.1,429.2 L526.2,428.9 L530.7,427.5 L535.6,426.8 L540.9,425.9 L546.5,424.4 L552.5,423.4 L558.5,421.7 L564.6,421.1 L570.6,419.5 L576.6,418.6 L582.6,417.3 L588.6,416.9 L594.6,416.9 L600.7,414.3 L606.7,413.1 L612.7,412.2 L618.7,412.0 L624.7,410.9 L630.7,411.1 L636.8,409.0 L642.8,408.9 L648.8,408.9 L654.8,408.7 L660.8,406.4 L666.8,405.4 L672.9,406.8 L678.9,404.6 L684.9,404.9 L690.9,404.8 L696.9,403.9 L702.2,402.4 L706.7,401.7 L710.5,403.1 L713.5,401.6 L715.7,402.6 L717.2,401.0 L718.0,401.8" fill="none" stroke="#7a7a7a" stroke-width="6.5" stroke-linecap="round" stroke-linejoin="round" />
<path d="M434.0,510.1 L434.1,509.0 L434.2,508.7 L434.5,507.2 L434.8,505.8 L435.1,505.3 L435.6,503.3 L436.1,499.1 L436.7,497.6 L437.5,494.9 L438.4,490.4 L439.4,488.7 L440.6,485.1 L442.0,482.9 L443.5,479.7 L445.1,477.8 L446.9,473.8 L448.9,470.4 L451.0,468.4 L453.3,465.3 L455.7,462.9 L458.2,461.8 L460.9,457.9 L463.8,456.1 L466.8,454.6 L469.8,453.2 L472.8,449.4 L475.8,448.4 L478.8,446.1 L481.8,444.0 L484.9,442.8 L487.9,440.8 L490.9,440.4 L493.9,438.2 L496.9,437.6 L499.9,435.3 L502.9,434.3 L505.9,434.9 L508.9,433.8 L511.9,432.7 L514.9,430.2 L518.3,430.5 L522.1,429.2 L526.2,428.9 L530.7,427.5 L535.6,426.8 L540.9,425.9 L546.5,424.4 L552.5,423.4 L558.5,421.7 L564.6,421.1 L570.6,419.5 L576.6,418.6 L582.6,417.3 L588.6,416.9 L594.6,416.9 L600.7,414.3 L606.7,413.1 L612.7,412.2 L618.7,412.0 L624.7,410.9 L630.7,411.1 L636.8,409.0 L642.8,408.9 L648.8,408.9 L654.8,408.7 L660.8,406.4 L666.8,405.4 L672.9,406.8 L678.9,404.6 L684.9,404.9 L690.9,404.8 L696.9,403.9 L702.2,402.4 L706.7,401.7 L710.5,403.1 L713.5,401.6 L715.7,402.6 L717.2,401.0 L718.0,401.8" fill="none" stroke="#d8d8d8" stroke-width="1.2" stroke-linecap="round" stroke-linejoin="round" stroke-dasharray="1.5 2" opacity="0.8"/>
<path d="M432.6,432.6 L432.7,432.2 L433.1,432.8 L433.6,431.2 L434.3,432.0 L435.2,431.6 L436.2,429.3 L437.4,429.3 L438.8,427.5 L440.5,425.5 L442.6,423.5 L445.1,422.8 L447.9,421.4 L451.0,417.8 L454.5,417.2 L458.4,413.9 L462.6,412.1 L467.0,411.3 L471.7,409.4 L476.6,407.5 L481.7,405.6 L487.0,404.1 L492.6,402.7 L498.4,401.2 L504.4,399.1 L510.4,398.7 L516.4,397.6 L522.5,395.7 L528.5,395.4 L534.5,394.0 L540.5,391.3 L546.5,391.1 L552.5,389.9 L558.5,389.9 L564.6,388.0 L570.6,386.7 L576.6,387.0 L582.6,384.9 L588.6,384.1 L594.6,384.7 L600.7,382.9 L606.7,382.6 L612.7,381.5 L618.7,381.5 L624.7,380.0 L630.7,379.1 L636.8,379.9 L642.8,379.0 L648.8,376.8 L654.8,375.4 L660.8,376.2 L666.8,375.0 L672.9,374.1 L678.9,374.1 L684.9,373.6 L690.9,373.2 L696.9,372.7 L702.2,371.9 L706.7,372.3 L710.5,371.9 L713.5,370.8 L715.7,372.3 L717.2,371.0 L718.0,370.6" fill="none" stroke="#d0308e" stroke-width="6.5" stroke-linecap="round" stroke-linejoin="round" />
<path d="M432.6,432.6 L432.7,432.2 L433.1,432.8 L433.6,431.2 L434.3,432.0 L435.2,431.6 L436.2,429.3 L437.4,429.3 L438.8,427.5 L440.5,425.5 L442.6,423.5 L445.1,422.8 L447.9,421.4 L451.0,417.8 L454.5,417.2 L458.4,413.9 L462.6,412.1 L467.0,411.3 L471.7,409.4 L476.6,407.5 L481.7,405.6 L487.0,404.1 L492.6,402.7 L498.4,401.2 L504.4,399.1 L510.4,398.7 L516.4,397.6 L522.5,395.7 L528.5,395.4 L534.5,394.0 L540.5,391.3 L546.5,391.1 L552.5,389.9 L558.5,389.9 L564.6,388.0 L570.6,386.7 L576.6,387.0 L582.6,384.9 L588.6,384.1 L594.6,384.7 L600.7,382.9 L606.7,382.6 L612.7,381.5 L618.7,381.5 L624.7,380.0 L630.7,379.1 L636.8,379.9 L642.8,379.0 L648.8,376.8 L654.8,375.4 L660.8,376.2 L666.8,375.0 L672.9,374.1 L678.9,374.1 L684.9,373.6 L690.9,373.2 L696.9,372.7 L702.2,371.9 L706.7,372.3 L710.5,371.9 L713.5,370.8 L715.7,372.3 L717.2,371.0 L718.0,370.6" fill="none" stroke="#f8c0e0" stroke-width="1.2" stroke-linecap="round" stroke-linejoin="round" stroke-dasharray="1.5 2" opacity="0.8"/>
<path d="M432.6,401.8 L432.6,401.9 L432.6,400.6 L432.7,401.6 L432.8,401.5 L432.9,400.7 L433.0,399.8 L433.2,400.7 L433.4,399.8 L433.6,399.3 L433.9,397.6 L434.2,397.8 L434.6,396.1 L435.1,396.8 L435.6,395.5 L436.1,393.8 L436.7,392.2 L437.5,392.1 L438.4,391.5 L439.4,390.7 L440.6,388.7 L442.0,388.4 L443.5,386.1 L445.1,385.0 L446.9,385.3 L448.9,384.1 L451.0,382.0 L453.3,381.4 L455.7,380.1 L458.2,380.2 L460.9,379.7 L463.8,378.5 L466.8,376.5 L470.2,376.7 L473.9,375.4 L478.1,374.0 L482.6,372.6 L487.5,371.1 L492.7,368.4 L498.4,368.3 L504.4,366.7 L510.4,363.0 L516.4,361.6 L522.5,360.0 L528.5,360.0 L534.5,357.8 L540.5,357.0 L546.5,357.9 L552.5,356.3 L558.5,355.6 L564.6,355.6 L570.6,355.4 L576.6,355.5 L582.6,355.0 L588.6,354.9 L594.6,354.9 L600.7,353.5 L606.0,353.9 L610.7,352.5 L614.7,354.1 L618.0,352.2 L620.6,352.6 L622.5,352.2 L623.8,352.4 L624.4,352.6 L625.0,353.5 L625.4,354.9 L625.8,353.5 L626.1,354.8 L626.3,354.6 L626.5,353.9 L626.5,354.2" fill="none" stroke="#3a5aa0" stroke-width="6.5" stroke-linecap="round" stroke-linejoin="round" />
<path d="M432.6,401.8 L432.6,401.9 L432.6,400.6 L432.7,401.6 L432.8,401.5 L432.9,400.7 L433.0,399.8 L433.2,400.7 L433.4,399.8 L433.6,399.3 L433.9,397.6 L434.2,397.8 L434.6,396.1 L435.1,396.8 L435.6,395.5 L436.1,393.8 L436.7,392.2 L437.5,392.1 L438.4,391.5 L439.4,390.7 L440.6,388.7 L442.0,388.4 L443.5,386.1 L445.1,385.0 L446.9,385.3 L448.9,384.1 L451.0,382.0 L453.3,381.4 L455.7,380.1 L458.2,380.2 L460.9,379.7 L463.8,378.5 L466.8,376.5 L470.2,376.7 L473.9,375.4 L478.1,374.0 L482.6,372.6 L487.5,371.1 L492.7,368.4 L498.4,368.3 L504.4,366.7 L510.4,363.0 L516.4,361.6 L522.5,360.0 L528.5,360.0 L534.5,357.8 L540.5,357.0 L546.5,357.9 L552.5,356.3 L558.5,355.6 L564.6,355.6 L570.6,355.4 L576.6,355.5 L582.6,355.0 L588.6,354.9 L594.6,354.9 L600.7,353.5 L606.0,353.9 L610.7,352.5 L614.7,354.1 L618.0,352.2 L620.6,352.6 L622.5,352.2 L623.8,352.4 L624.4,352.6 L625.0,353.5 L625.4,354.9 L625.8,353.5 L626.1,354.8 L626.3,354.6 L626.5,353.9 L626.5,354.2" fill="none" stroke="#c0d0f0" stroke-width="1.2" stroke-linecap="round" stroke-linejoin="round" stroke-dasharray="1.5 2" opacity="0.8"/>
<path d="M432.6,376.1 L432.6,374.8 L432.7,375.3 L432.9,375.6 L433.2,375.5 L433.5,373.7 L433.8,373.9 L434.3,372.6 L434.7,372.8 L435.3,372.3 L435.9,370.8 L436.5,369.4 L437.2,369.9 L437.9,367.6 L438.7,366.4 L439.6,365.8 L440.5,364.7 L441.4,365.6 L442.4,363.3 L443.4,361.9 L444.5,362.7 L445.6,361.4 L446.7,360.5 L447.9,359.1 L449.1,358.6 L450.5,357.6 L452.1,356.1 L454.0,356.9 L456.1,355.8 L458.5,354.7 L461.0,353.8 L463.8,352.9 L466.8,349.9 L470.2,349.2 L473.9,350.0 L478.1,348.2 L482.6,347.8 L487.5,347.1 L492.7,346.4 L498.4,345.1 L504.4,344.7 L510.0,344.7 L515.3,344.6 L520.2,343.8 L524.7,343.8 L528.8,342.5 L532.6,341.8 L536.0,342.1 L539.0,342.5 L542.0,341.9 L545.0,341.1 L548.0,340.3 L551.0,339.5 L554.0,340.0 L557.0,338.7 L560.1,338.6 L563.1,338.6 L565.7,338.4 L567.9,337.8 L569.8,337.1 L571.3,337.5 L572.5,336.7 L573.2,337.1 L573.6,337.5" fill="none" stroke="#2f8a68" stroke-width="6.5" stroke-linecap="round" stroke-linejoin="round" />
<path d="M432.6,376.1 L432.6,374.8 L432.7,375.3 L432.9,375.6 L433.2,375.5 L433.5,373.7 L433.8,373.9 L434.3,372.6 L434.7,372.8 L435.3,372.3 L435.9,370.8 L436.5,369.4 L437.2,369.9 L437.9,367.6 L438.7,366.4 L439.6,365.8 L440.5,364.7 L441.4,365.6 L442.4,363.3 L443.4,361.9 L444.5,362.7 L445.6,361.4 L446.7,360.5 L447.9,359.1 L449.1,358.6 L450.5,357.6 L452.1,356.1 L454.0,356.9 L456.1,355.8 L458.5,354.7 L461.0,353.8 L463.8,352.9 L466.8,349.9 L470.2,349.2 L473.9,350.0 L478.1,348.2 L482.6,347.8 L487.5,347.1 L492.7,346.4 L498.4,345.1 L504.4,344.7 L510.0,344.7 L515.3,344.6 L520.2,343.8 L524.7,343.8 L528.8,342.5 L532.6,341.8 L536.0,342.1 L539.0,342.5 L542.0,341.9 L545.0,341.1 L548.0,340.3 L551.0,339.5 L554.0,340.0 L557.0,338.7 L560.1,338.6 L563.1,338.6 L565.7,338.4 L567.9,337.8 L569.8,337.1 L571.3,337.5 L572.5,336.7 L573.2,337.1 L573.6,337.5" fill="none" stroke="#b8e0d0" stroke-width="1.2" stroke-linecap="round" stroke-linejoin="round" stroke-dasharray="1.5 2" opacity="0.8"/>
<path d="M429.2,564.4 L429.2,562.7 L429.3,559.3 L429.3,554.3 L429.4,547.5 L429.5,539.1 L429.7,528.9 L429.8,517.1 L430.0,503.6 L430.2,490.4 L430.4,477.4 L430.6,464.7 L430.7,452.2 L430.9,440.1 L431.1,428.2 L431.3,416.6 L431.5,405.2 L431.7,395.0 L431.9,385.9 L432.1,377.9 L432.4,371.0 L432.7,365.2 L433.0,360.5 L433.4,357.0 L433.7,354.6 L434.2,352.3 L434.7,350.3 L435.3,348.5 L436.1,346.8 L436.9,345.4 L437.8,344.2 L438.8,343.2 L439.8,342.4 L441.0,341.7 L442.3,341.0 L443.6,340.4 L445.1,339.9 L446.6,339.5 L448.2,339.1 L450.0,338.8 L451.8,338.6 L453.7,338.4 L455.8,338.2 L458.1,338.1 L460.5,337.9 L463.0,337.8 L465.7,337.7 L468.6,337.6 L471.6,337.6 L474.2,337.5 L476.5,337.5 L478.4,337.5 L479.9,337.4 L481.0,337.4 L481.8,337.4 L482.1,337.4" fill="none" stroke="#ea4f24" stroke-width="1.5" stroke-linecap="round" stroke-linejoin="round" />
<circle cx="429.7" cy="564.4" r="3.2" fill="#ea4f24"/>
<circle cx="428.7" cy="563.4" r="1.1" fill="#ffffff" opacity="0.45"/>
<circle cx="429.7" cy="551.4" r="3.2" fill="#ea4f24"/>
<circle cx="428.7" cy="550.5" r="1.1" fill="#ffffff" opacity="0.45"/>
<circle cx="429.7" cy="534.1" r="3.2" fill="#ea4f24"/>
<circle cx="428.7" cy="533.2" r="1.1" fill="#ffffff" opacity="0.45"/>
<circle cx="429.7" cy="519.0" r="3.2" fill="#ea4f24"/>
<circle cx="428.7" cy="518.0" r="1.1" fill="#ffffff" opacity="0.45"/>
<circle cx="429.7" cy="506.0" r="3.2" fill="#ea4f24"/>
<circle cx="428.8" cy="505.1" r="1.1" fill="#ffffff" opacity="0.45"/>
<circle cx="429.8" cy="493.1" r="3.2" fill="#ea4f24"/>
<circle cx="428.8" cy="492.1" r="1.1" fill="#ffffff" opacity="0.45"/>
<circle cx="429.8" cy="482.2" r="3.2" fill="#ea4f24"/>
<circle cx="428.8" cy="481.3" r="1.1" fill="#ffffff" opacity="0.45"/>
<circle cx="429.8" cy="471.4" r="3.2" fill="#ea4f24"/>
<circle cx="428.9" cy="470.5" r="1.1" fill="#ffffff" opacity="0.45"/>
<circle cx="429.9" cy="460.6" r="3.2" fill="#ea4f24"/>
<circle cx="428.9" cy="459.7" r="1.1" fill="#ffffff" opacity="0.45"/>
<circle cx="430.0" cy="452.0" r="3.2" fill="#ea4f24"/>
<circle cx="429.0" cy="451.0" r="1.1" fill="#ffffff" opacity="0.45"/>
<circle cx="430.1" cy="436.8" r="3.2" fill="#ea4f24"/>
<circle cx="429.1" cy="435.9" r="1.1" fill="#ffffff" opacity="0.45"/>
<circle cx="430.2" cy="426.0" r="3.2" fill="#ea4f24"/>
<circle cx="429.2" cy="425.1" r="1.1" fill="#ffffff" opacity="0.45"/>
<circle cx="430.4" cy="410.9" r="3.2" fill="#ea4f24"/>
<circle cx="429.4" cy="409.9" r="1.1" fill="#ffffff" opacity="0.45"/>
<circle cx="430.5" cy="404.4" r="3.2" fill="#ea4f24"/>
<circle cx="429.5" cy="403.5" r="1.1" fill="#ffffff" opacity="0.45"/>
<circle cx="430.6" cy="393.6" r="3.2" fill="#ea4f24"/>
<circle cx="429.7" cy="392.6" r="1.1" fill="#ffffff" opacity="0.45"/>
<circle cx="430.8" cy="382.8" r="3.2" fill="#ea4f24"/>
<circle cx="429.9" cy="381.8" r="1.1" fill="#ffffff" opacity="0.45"/>
<circle cx="431.0" cy="372.0" r="3.2" fill="#ea4f24"/>
<circle cx="430.1" cy="371.0" r="1.1" fill="#ffffff" opacity="0.45"/>
<circle cx="431.2" cy="363.3" r="3.2" fill="#ea4f24"/>
<circle cx="430.3" cy="362.4" r="1.1" fill="#ffffff" opacity="0.45"/>
<circle cx="431.5" cy="352.5" r="3.2" fill="#ea4f24"/>
<circle cx="430.5" cy="351.6" r="1.1" fill="#ffffff" opacity="0.45"/>
<circle cx="431.7" cy="346.0" r="3.2" fill="#ea4f24"/>
<circle cx="430.7" cy="345.1" r="1.1" fill="#ffffff" opacity="0.45"/>
<path d="M434.0,346.0 L434.2,345.9 L434.5,345.7 L434.9,345.4 L435.5,345.0 L436.3,344.5 L437.2,343.9 L438.2,343.2 L439.4,342.4 L440.7,341.7 L442.1,341.0 L443.5,340.4 L445.0,339.9 L446.6,339.5 L448.2,339.1 L450.0,338.8 L451.8,338.6 L453.7,338.4 L455.8,338.2 L458.1,338.1 L460.5,337.9 L463.0,337.8 L465.7,337.7 L468.6,337.6 L471.6,337.6 L474.2,337.5 L476.5,337.5 L478.4,337.5 L479.9,337.4 L481.0,337.4 L481.8,337.4 L482.1,337.4" fill="none" stroke="#ea4f24" stroke-width="5.5" stroke-linecap="round" stroke-linejoin="round" />
<path d="M434.0,346.0 L434.2,345.9 L434.5,345.7 L434.9,345.4 L435.5,345.0 L436.3,344.5 L437.2,343.9 L438.2,343.2 L439.4,342.4 L440.7,341.7 L442.1,341.0 L443.5,340.4 L445.0,339.9 L446.6,339.5 L448.2,339.1 L450.0,338.8 L451.8,338.6 L453.7,338.4 L455.8,338.2 L458.1,338.1 L460.5,337.9 L463.0,337.8 L465.7,337.7 L468.6,337.6 L471.6,337.6 L474.2,337.5 L476.5,337.5 L478.4,337.5 L479.9,337.4 L481.0,337.4 L481.8,337.4 L482.1,337.4" fill="none" stroke="#ffc8a8" stroke-width="1.2" stroke-linecap="round" stroke-linejoin="round" stroke-dasharray="1.5 2" opacity="0.8"/>
<circle cx="434.0" cy="510.3" r="3.0" fill="#7a7a7a"/>
<circle cx="433.1" cy="509.4" r="1.0" fill="#ffffff" opacity="0.45"/>
<circle cx="437.9" cy="497.4" r="3.0" fill="#7a7a7a"/>
<circle cx="437.0" cy="496.5" r="1.0" fill="#ffffff" opacity="0.45"/>
<circle cx="441.7" cy="486.6" r="3.0" fill="#7a7a7a"/>
<circle cx="440.8" cy="485.7" r="1.0" fill="#ffffff" opacity="0.45"/>
<circle cx="445.6" cy="477.9" r="3.0" fill="#7a7a7a"/>
<circle cx="444.7" cy="477.0" r="1.0" fill="#ffffff" opacity="0.45"/>
<line x1="651" y1="493.7" x2="679" y2="493.7" stroke="#ea4f24" stroke-width="1.8"/>
<circle cx="665.0" cy="493.7" r="3.8" fill="#ea4f24"/>
<circle cx="663.9" cy="492.6" r="1.3" fill="#ffffff" opacity="0.45"/>
<text x="681.2" y="497.9" font-size="13.5" text-anchor="start" fill="#1a1a1a" font-weight="normal"  textLength="36.3" lengthAdjust="spacing">280°C</text>
<line x1="651" y1="510.4" x2="679" y2="510.4" stroke="#2f8a68" stroke-width="1.8"/>
<circle cx="665.0" cy="510.4" r="3.8" fill="#2f8a68"/>
<circle cx="663.9" cy="509.3" r="1.3" fill="#ffffff" opacity="0.45"/>
<text x="681.2" y="514.6" font-size="13.5" text-anchor="start" fill="#1a1a1a" font-weight="normal"  textLength="36.3" lengthAdjust="spacing">250°C</text>
<line x1="651" y1="527.1" x2="679" y2="527.1" stroke="#3a5aa0" stroke-width="1.8"/>
<circle cx="665.0" cy="527.1" r="3.8" fill="#3a5aa0"/>
<circle cx="663.9" cy="526.0" r="1.3" fill="#ffffff" opacity="0.45"/>
<text x="681.2" y="531.3" font-size="13.5" text-anchor="start" fill="#1a1a1a" font-weight="normal"  textLength="36.3" lengthAdjust="spacing">200°C</text>
<line x1="651" y1="543.7" x2="679" y2="543.7" stroke="#d0308e" stroke-width="1.8"/>
<circle cx="665.0" cy="543.7" r="3.8" fill="#d0308e"/>
<circle cx="663.9" cy="542.6" r="1.3" fill="#ffffff" opacity="0.45"/>
<text x="681.2" y="547.9" font-size="13.5" text-anchor="start" fill="#1a1a1a" font-weight="normal"  textLength="36.3" lengthAdjust="spacing">100°C</text>
<line x1="651" y1="560.4" x2="679" y2="560.4" stroke="#7a7a7a" stroke-width="1.8"/>
<circle cx="665.0" cy="560.4" r="3.8" fill="#7a7a7a"/>
<circle cx="663.9" cy="559.3" r="1.3" fill="#ffffff" opacity="0.45"/>
<text x="681.2" y="564.6" font-size="13.5" text-anchor="start" fill="#1a1a1a" font-weight="normal"  textLength="28.9" lengthAdjust="spacing">30°C</text>
<rect x="49.6" y="632.8" width="297.4" height="238.1" fill="none" stroke="#1a1a1a" stroke-width="1.3"/>
<line x1="49.6" y1="870.9" x2="49.6" y2="874.9" stroke="#1a1a1a" stroke-width="1.2"/>
<text x="49.6" y="890.0" font-size="13" text-anchor="middle" fill="#1a1a1a" font-weight="normal" >0.0</text>
<line x1="109.1" y1="870.9" x2="109.1" y2="874.9" stroke="#1a1a1a" stroke-width="1.2"/>
<text x="109.1" y="890.0" font-size="13" text-anchor="middle" fill="#1a1a1a" font-weight="normal" >0.5</text>
<line x1="168.6" y1="870.9" x2="168.6" y2="874.9" stroke="#1a1a1a" stroke-width="1.2"/>
<text x="168.6" y="890.0" font-size="13" text-anchor="middle" fill="#1a1a1a" font-weight="normal" >1.0</text>
<line x1="228.0" y1="870.9" x2="228.0" y2="874.9" stroke="#1a1a1a" stroke-width="1.2"/>
<text x="228.0" y="890.0" font-size="13" text-anchor="middle" fill="#1a1a1a" font-weight="normal" >1.5</text>
<line x1="287.5" y1="870.9" x2="287.5" y2="874.9" stroke="#1a1a1a" stroke-width="1.2"/>
<text x="287.5" y="890.0" font-size="13" text-anchor="middle" fill="#1a1a1a" font-weight="normal" >2.0</text>
<line x1="347.0" y1="870.9" x2="347.0" y2="874.9" stroke="#1a1a1a" stroke-width="1.2"/>
<text x="347.0" y="890.0" font-size="13" text-anchor="middle" fill="#1a1a1a" font-weight="normal" >2.5</text>
<line x1="79.3" y1="870.9" x2="79.3" y2="873.1" stroke="#1a1a1a" stroke-width="1.1"/>
<line x1="138.8" y1="870.9" x2="138.8" y2="873.1" stroke="#1a1a1a" stroke-width="1.1"/>
<line x1="198.3" y1="870.9" x2="198.3" y2="873.1" stroke="#1a1a1a" stroke-width="1.1"/>
<line x1="257.8" y1="870.9" x2="257.8" y2="873.1" stroke="#1a1a1a" stroke-width="1.1"/>
<line x1="317.3" y1="870.9" x2="317.3" y2="873.1" stroke="#1a1a1a" stroke-width="1.1"/>
<line x1="45.6" y1="868.2" x2="49.6" y2="868.2" stroke="#1a1a1a" stroke-width="1.2"/>
<text x="42.0" y="872.7" font-size="13" text-anchor="end" fill="#1a1a1a" font-weight="normal" >0</text>
<line x1="45.6" y1="812.0" x2="49.6" y2="812.0" stroke="#1a1a1a" stroke-width="1.2"/>
<text x="42.0" y="816.5" font-size="13" text-anchor="end" fill="#1a1a1a" font-weight="normal" >2</text>
<line x1="45.6" y1="755.8" x2="49.6" y2="755.8" stroke="#1a1a1a" stroke-width="1.2"/>
<text x="42.0" y="760.3" font-size="13" text-anchor="end" fill="#1a1a1a" font-weight="normal" >4</text>
<line x1="45.6" y1="699.7" x2="49.6" y2="699.7" stroke="#1a1a1a" stroke-width="1.2"/>
<text x="42.0" y="704.2" font-size="13" text-anchor="end" fill="#1a1a1a" font-weight="normal" >6</text>
<line x1="45.6" y1="643.5" x2="49.6" y2="643.5" stroke="#1a1a1a" stroke-width="1.2"/>
<text x="42.0" y="648.0" font-size="13" text-anchor="end" fill="#1a1a1a" font-weight="normal" >8</text>
<line x1="47.4" y1="840.1" x2="49.6" y2="840.1" stroke="#1a1a1a" stroke-width="1.1"/>
<line x1="47.4" y1="783.9" x2="49.6" y2="783.9" stroke="#1a1a1a" stroke-width="1.1"/>
<line x1="47.4" y1="727.8" x2="49.6" y2="727.8" stroke="#1a1a1a" stroke-width="1.1"/>
<line x1="47.4" y1="671.6" x2="49.6" y2="671.6" stroke="#1a1a1a" stroke-width="1.1"/>
<text x="15.1" y="648.2" font-size="23.5" text-anchor="start" fill="#000" font-weight="bold" >e</text>
<text x="0" y="0" transform="translate(24.4,751) rotate(-90)" font-size="14" text-anchor="middle" fill="#1a1a1a" textLength="60" lengthAdjust="spacing">(t/t<tspan baseline-shift="-30%" font-size="70%">0.5</tspan>)<tspan baseline-shift="-30%" font-size="75%">theo</tspan></text>
<text x="199" y="904.9" font-size="14" text-anchor="middle" fill="#1a1a1a" textLength="55" lengthAdjust="spacing">(t/t<tspan baseline-shift="-30%" font-size="70%">0.5</tspan>)<tspan baseline-shift="-30%" font-size="75%">exp</tspan></text>
<g opacity="0.62">
<path d="M85.3,866.8 L104.3,862.6 L124.5,857.0 L144.8,849.9 L168.6,840.1 L195.9,827.5 L229.2,813.4 L266.1,796.6 L324.4,776.9" fill="none" stroke="#8a8a8a" stroke-width="1.2"/>
<rect x="81.8" y="863.4" width="6.9" height="6.9" fill="#8a8a8a"/>
<rect x="100.9" y="859.1" width="6.9" height="6.9" fill="#8a8a8a"/>
<rect x="121.1" y="853.5" width="6.9" height="6.9" fill="#8a8a8a"/>
<rect x="141.3" y="846.5" width="6.9" height="6.9" fill="#8a8a8a"/>
<rect x="165.1" y="836.7" width="6.9" height="6.9" fill="#8a8a8a"/>
<rect x="192.5" y="824.0" width="6.9" height="6.9" fill="#8a8a8a"/>
<rect x="225.8" y="810.0" width="6.9" height="6.9" fill="#8a8a8a"/>
<rect x="262.7" y="793.1" width="6.9" height="6.9" fill="#8a8a8a"/>
<rect x="321.0" y="773.5" width="6.9" height="6.9" fill="#8a8a8a"/>
</g>
<g opacity="0.62">
<path d="M85.3,866.8 L104.3,864.0 L124.5,858.4 L144.8,851.3 L168.6,840.1 L195.9,824.7 L229.2,806.4 L266.1,781.1 L324.4,746.0" fill="none" stroke="#f08080" stroke-width="1.2"/>
<circle cx="85.3" cy="866.8" r="4.3" fill="#f08080"/>
<circle cx="104.3" cy="864.0" r="4.3" fill="#f08080"/>
<circle cx="124.5" cy="858.4" r="4.3" fill="#f08080"/>
<circle cx="144.8" cy="851.3" r="4.3" fill="#f08080"/>
<circle cx="168.6" cy="840.1" r="4.3" fill="#f08080"/>
<circle cx="195.9" cy="824.7" r="4.3" fill="#f08080"/>
<circle cx="229.2" cy="806.4" r="4.3" fill="#f08080"/>
<circle cx="266.1" cy="781.1" r="4.3" fill="#f08080"/>
<circle cx="324.4" cy="746.0" r="4.3" fill="#f08080"/>
</g>
<g opacity="0.62">
<path d="M85.3,867.6 L104.3,864.8 L124.5,859.8 L144.8,851.9 L168.6,840.1 L195.9,822.7 L229.2,795.2 L266.1,754.4 L324.4,678.6" fill="none" stroke="#6a9ee0" stroke-width="1.2"/>
<path d="M85.3,863.3 L89.6,871.1 L81.0,871.1Z" fill="#6a9ee0"/>
<path d="M104.3,860.5 L108.6,868.3 L100.0,868.3Z" fill="#6a9ee0"/>
<path d="M124.5,855.5 L128.8,863.2 L120.2,863.2Z" fill="#6a9ee0"/>
<path d="M144.8,847.6 L149.1,855.3 L140.5,855.3Z" fill="#6a9ee0"/>
<path d="M168.6,835.8 L172.9,843.6 L164.3,843.6Z" fill="#6a9ee0"/>
<path d="M195.9,818.4 L200.2,826.1 L191.6,826.1Z" fill="#6a9ee0"/>
<path d="M229.2,790.9 L233.5,798.6 L224.9,798.6Z" fill="#6a9ee0"/>
<path d="M266.1,750.1 L270.4,757.9 L261.8,757.9Z" fill="#6a9ee0"/>
<path d="M324.4,674.3 L328.7,682.0 L320.1,682.0Z" fill="#6a9ee0"/>
</g>
<g opacity="0.62">
<path d="M85.3,867.4 L104.3,864.0 L124.5,858.4 L144.8,851.3 L168.6,840.1 L195.9,823.8 L229.2,803.6 L266.1,772.7 L324.4,727.8" fill="none" stroke="#7fc0a0" stroke-width="1.2"/>
<path d="M85.3,871.7 L89.6,863.9 L81.0,863.9Z" fill="#7fc0a0"/>
<path d="M104.3,868.3 L108.6,860.5 L100.0,860.5Z" fill="#7fc0a0"/>
<path d="M124.5,862.7 L128.8,854.9 L120.2,854.9Z" fill="#7fc0a0"/>
<path d="M144.8,855.6 L149.1,847.9 L140.5,847.9Z" fill="#7fc0a0"/>
<path d="M168.6,844.4 L172.9,836.7 L164.3,836.7Z" fill="#7fc0a0"/>
<path d="M195.9,828.1 L200.2,820.4 L191.6,820.4Z" fill="#7fc0a0"/>
<path d="M229.2,807.9 L233.5,800.2 L224.9,800.2Z" fill="#7fc0a0"/>
<path d="M266.1,777.0 L270.4,769.3 L261.8,769.3Z" fill="#7fc0a0"/>
<path d="M324.4,732.0 L328.7,724.3 L320.1,724.3Z" fill="#7fc0a0"/>
</g>
<g opacity="0.62">
<path d="M85.3,865.4 L104.3,861.2 L124.5,855.6 L144.8,848.5 L168.6,840.1 L195.9,828.9 L229.2,819.0 L266.1,803.6 L324.4,775.5" fill="none" stroke="#c8a8e8" stroke-width="1.2"/>
<path d="M85.3,861.1 L89.6,865.4 L85.3,869.7 L81.0,865.4Z" fill="#c8a8e8"/>
<path d="M104.3,856.9 L108.6,861.2 L104.3,865.5 L100.0,861.2Z" fill="#c8a8e8"/>
<path d="M124.5,851.3 L128.8,855.6 L124.5,859.9 L120.2,855.6Z" fill="#c8a8e8"/>
<path d="M144.8,844.2 L149.1,848.5 L144.8,852.8 L140.5,848.5Z" fill="#c8a8e8"/>
<path d="M168.6,835.8 L172.9,840.1 L168.6,844.4 L164.3,840.1Z" fill="#c8a8e8"/>
<path d="M195.9,824.6 L200.2,828.9 L195.9,833.2 L191.6,828.9Z" fill="#c8a8e8"/>
<path d="M229.2,814.7 L233.5,819.0 L229.2,823.3 L224.9,819.0Z" fill="#c8a8e8"/>
<path d="M266.1,799.3 L270.4,803.6 L266.1,807.9 L261.8,803.6Z" fill="#c8a8e8"/>
<path d="M324.4,771.2 L328.7,775.5 L324.4,779.8 L320.1,775.5Z" fill="#c8a8e8"/>
</g>
<g opacity="0.95">
<path d="M85.3,865.4 L104.3,859.8 L124.5,854.2 L144.8,847.1 L168.6,840.1 L195.9,831.7 L229.2,824.7 L266.1,815.4 L324.4,802.8" fill="none" stroke="#f07820" stroke-width="1.6"/>
<path d="M81.0,865.4 L88.7,861.1 L88.7,869.7Z" fill="#f07820"/>
<path d="M100.0,859.8 L107.8,855.5 L107.8,864.1Z" fill="#f07820"/>
<path d="M120.2,854.2 L128.0,849.9 L128.0,858.5Z" fill="#f07820"/>
<path d="M140.5,847.1 L148.2,842.8 L148.2,851.4Z" fill="#f07820"/>
<path d="M164.3,840.1 L172.0,835.8 L172.0,844.4Z" fill="#f07820"/>
<path d="M191.6,831.7 L199.4,827.4 L199.4,836.0Z" fill="#f07820"/>
<path d="M224.9,824.7 L232.7,820.4 L232.7,829.0Z" fill="#f07820"/>
<path d="M261.8,815.4 L269.5,811.1 L269.5,819.7Z" fill="#f07820"/>
<path d="M320.1,802.8 L327.8,798.5 L327.8,807.1Z" fill="#f07820"/>
</g>
<g opacity="0.62">
<path d="M85.3,866.0 L104.3,861.2 L124.5,855.6 L144.8,848.5 L168.6,840.1 L195.9,830.3 L229.2,821.0 L266.1,812.0 L324.4,795.2" fill="none" stroke="#60d0e0" stroke-width="1.2"/>
<path d="M89.6,866.0 L81.8,861.7 L81.8,870.3Z" fill="#60d0e0"/>
<path d="M108.6,861.2 L100.9,856.9 L100.9,865.5Z" fill="#60d0e0"/>
<path d="M128.8,855.6 L121.1,851.3 L121.1,859.9Z" fill="#60d0e0"/>
<path d="M149.1,848.5 L141.3,844.2 L141.3,852.8Z" fill="#60d0e0"/>
<path d="M172.9,840.1 L165.1,835.8 L165.1,844.4Z" fill="#60d0e0"/>
<path d="M200.2,830.3 L192.5,826.0 L192.5,834.6Z" fill="#60d0e0"/>
<path d="M233.5,821.0 L225.8,816.7 L225.8,825.3Z" fill="#60d0e0"/>
<path d="M270.4,812.0 L262.7,807.7 L262.7,816.3Z" fill="#60d0e0"/>
<path d="M328.7,795.2 L321.0,790.9 L321.0,799.5Z" fill="#60d0e0"/>
</g>
<g opacity="0.62">
<path d="M85.3,857.5 L104.3,852.8 L124.5,848.5 L144.8,844.3 L168.6,840.1 L195.9,835.9 L229.2,831.7 L266.1,825.5 L324.4,817.6" fill="none" stroke="#a08888" stroke-width="1.2"/>
<circle cx="85.3" cy="857.5" r="4.3" fill="#a08888"/>
<circle cx="104.3" cy="852.8" r="4.3" fill="#a08888"/>
<circle cx="124.5" cy="848.5" r="4.3" fill="#a08888"/>
<circle cx="144.8" cy="844.3" r="4.3" fill="#a08888"/>
<circle cx="168.6" cy="840.1" r="4.3" fill="#a08888"/>
<circle cx="195.9" cy="835.9" r="4.3" fill="#a08888"/>
<circle cx="229.2" cy="831.7" r="4.3" fill="#a08888"/>
<circle cx="266.1" cy="825.5" r="4.3" fill="#a08888"/>
<circle cx="324.4" cy="817.6" r="4.3" fill="#a08888"/>
</g>
<g opacity="0.62">
<path d="M85.3,852.8 L104.3,849.1 L124.5,845.7 L144.8,842.9 L168.6,840.1 L195.9,837.3 L229.2,834.5 L266.1,831.1 L324.4,826.6" fill="none" stroke="#b8b870" stroke-width="1.2"/>
<path d="M85.3,848.5 L86.4,851.2 L89.4,851.4 L87.1,853.3 L87.8,856.2 L85.3,854.7 L82.8,856.2 L83.4,853.3 L81.2,851.4 L84.2,851.2Z" fill="#b8b870"/>
<path d="M104.3,844.8 L105.5,847.5 L108.4,847.8 L106.2,849.7 L106.8,852.6 L104.3,851.0 L101.8,852.6 L102.5,849.7 L100.2,847.8 L103.2,847.5Z" fill="#b8b870"/>
<path d="M124.5,841.4 L125.7,844.2 L128.6,844.4 L126.4,846.3 L127.1,849.2 L124.5,847.7 L122.0,849.2 L122.7,846.3 L120.5,844.4 L123.4,844.2Z" fill="#b8b870"/>
<path d="M144.8,838.6 L145.9,841.4 L148.9,841.6 L146.6,843.5 L147.3,846.4 L144.8,844.9 L142.2,846.4 L142.9,843.5 L140.7,841.6 L143.6,841.4Z" fill="#b8b870"/>
<path d="M168.6,835.8 L169.7,838.5 L172.6,838.8 L170.4,840.7 L171.1,843.6 L168.6,842.0 L166.0,843.6 L166.7,840.7 L164.5,838.8 L167.4,838.5Z" fill="#b8b870"/>
<path d="M195.9,833.0 L197.1,835.7 L200.0,836.0 L197.8,837.9 L198.4,840.8 L195.9,839.2 L193.4,840.8 L194.1,837.9 L191.8,836.0 L194.8,835.7Z" fill="#b8b870"/>
<path d="M229.2,830.2 L230.4,832.9 L233.3,833.2 L231.1,835.1 L231.8,838.0 L229.2,836.4 L226.7,838.0 L227.4,835.1 L225.1,833.2 L228.1,832.9Z" fill="#b8b870"/>
<path d="M266.1,826.8 L267.2,829.6 L270.2,829.8 L267.9,831.7 L268.6,834.6 L266.1,833.1 L263.6,834.6 L264.3,831.7 L262.0,829.8 L265.0,829.6Z" fill="#b8b870"/>
<path d="M324.4,822.3 L325.5,825.1 L328.5,825.3 L326.2,827.2 L326.9,830.1 L324.4,828.6 L321.9,830.1 L322.6,827.2 L320.3,825.3 L323.3,825.1Z" fill="#b8b870"/>
</g>
<g opacity="0.62">
<line x1="55" y1="643.5" x2="84" y2="643.5" stroke="#8a8a8a" stroke-width="1.3"/>
<rect x="66.6" y="640.1" width="6.9" height="6.9" fill="#8a8a8a"/>
</g>
<text x="90.0" y="648.5" font-size="13.5" text-anchor="start" fill="#1a1a1a" font-weight="normal" >D1 slope = 1.70</text>
<g opacity="0.62">
<line x1="55" y1="660.0" x2="84" y2="660.0" stroke="#f08080" stroke-width="1.3"/>
<circle cx="70.0" cy="660.0" r="4.3" fill="#f08080"/>
</g>
<text x="90.0" y="665.0" font-size="13.5" text-anchor="start" fill="#1a1a1a" font-weight="normal" >D2 slope = 2.23</text>
<g opacity="0.62">
<line x1="55" y1="676.5" x2="84" y2="676.5" stroke="#6a9ee0" stroke-width="1.3"/>
<path d="M70.0,672.2 L74.3,679.9 L65.7,679.9Z" fill="#6a9ee0"/>
</g>
<text x="90.0" y="681.5" font-size="13.5" text-anchor="start" fill="#1a1a1a" font-weight="normal" >D3 slope = 3.28</text>
<g opacity="0.62">
<line x1="55" y1="692.9" x2="84" y2="692.9" stroke="#7fc0a0" stroke-width="1.3"/>
<path d="M70.0,697.2 L74.3,689.5 L65.7,689.5Z" fill="#7fc0a0"/>
</g>
<text x="90.0" y="697.9" font-size="13.5" text-anchor="start" fill="#1a1a1a" font-weight="normal" >D4 slope = 2.53</text>
<g opacity="0.62">
<line x1="55" y1="709.4" x2="84" y2="709.4" stroke="#c8a8e8" stroke-width="1.3"/>
<path d="M70.0,705.1 L74.3,709.4 L70.0,713.7 L65.7,709.4Z" fill="#c8a8e8"/>
</g>
<text x="90.0" y="714.4" font-size="13.5" text-anchor="start" fill="#1a1a1a" font-weight="normal" >F1 slope = 1.56</text>
<g opacity="0.95">
<line x1="55" y1="725.9" x2="84" y2="725.9" stroke="#f07820" stroke-width="1.3"/>
<path d="M65.7,725.9 L73.4,721.6 L73.4,730.2Z" fill="#f07820"/>
</g>
<text x="90.0" y="730.9" font-size="13.5" text-anchor="start" fill="#1a1a1a" font-weight="normal" >R2 slope = 1.09</text>
<g opacity="0.62">
<line x1="55" y1="742.4" x2="84" y2="742.4" stroke="#60d0e0" stroke-width="1.3"/>
<path d="M74.3,742.4 L66.6,738.1 L66.6,746.7Z" fill="#60d0e0"/>
</g>
<text x="90.0" y="747.4" font-size="13.5" text-anchor="start" fill="#1a1a1a" font-weight="normal" >R3 slope = 1.22</text>
<g opacity="0.62">
<line x1="55" y1="758.9" x2="84" y2="758.9" stroke="#a08888" stroke-width="1.3"/>
<circle cx="70.0" cy="758.9" r="4.3" fill="#a08888"/>
</g>
<text x="90.0" y="763.9" font-size="13.5" text-anchor="start" fill="#1a1a1a" font-weight="normal" >A2 slope = 0.70</text>
<g opacity="0.62">
<line x1="55" y1="775.3" x2="84" y2="775.3" stroke="#b8b870" stroke-width="1.3"/>
<path d="M70.0,771.0 L71.1,773.8 L74.1,774.0 L71.8,775.9 L72.5,778.8 L70.0,777.3 L67.5,778.8 L68.2,775.9 L65.9,774.0 L68.9,773.8Z" fill="#b8b870"/>
</g>
<text x="90.0" y="780.3" font-size="13.5" text-anchor="start" fill="#1a1a1a" font-weight="normal" >A3 slope = 0.46</text>
<rect x="56.3" y="719" width="135.5" height="14" rx="3" fill="none" stroke="#f07820" stroke-width="2" stroke-dasharray="5 3"/>
<rect x="420.4" y="632.8" width="299.1" height="239.4" fill="none" stroke="#1a1a1a" stroke-width="1.3"/>
<line x1="420.7" y1="872.2" x2="420.7" y2="876.2" stroke="#1a1a1a" stroke-width="1.2"/>
<text x="420.7" y="890.0" font-size="13" text-anchor="middle" fill="#1a1a1a" font-weight="normal" >1.6</text>
<line x1="466.6" y1="872.2" x2="466.6" y2="876.2" stroke="#1a1a1a" stroke-width="1.2"/>
<text x="466.6" y="890.0" font-size="13" text-anchor="middle" fill="#1a1a1a" font-weight="normal" >1.7</text>
<line x1="512.4" y1="872.2" x2="512.4" y2="876.2" stroke="#1a1a1a" stroke-width="1.2"/>
<text x="512.4" y="890.0" font-size="13" text-anchor="middle" fill="#1a1a1a" font-weight="normal" >1.8</text>
<line x1="558.3" y1="872.2" x2="558.3" y2="876.2" stroke="#1a1a1a" stroke-width="1.2"/>
<text x="558.3" y="890.0" font-size="13" text-anchor="middle" fill="#1a1a1a" font-weight="normal" >1.9</text>
<line x1="604.2" y1="872.2" x2="604.2" y2="876.2" stroke="#1a1a1a" stroke-width="1.2"/>
<text x="604.2" y="890.0" font-size="13" text-anchor="middle" fill="#1a1a1a" font-weight="normal" >2.0</text>
<line x1="650.0" y1="872.2" x2="650.0" y2="876.2" stroke="#1a1a1a" stroke-width="1.2"/>
<text x="650.0" y="890.0" font-size="13" text-anchor="middle" fill="#1a1a1a" font-weight="normal" >2.1</text>
<line x1="695.9" y1="872.2" x2="695.9" y2="876.2" stroke="#1a1a1a" stroke-width="1.2"/>
<text x="695.9" y="890.0" font-size="13" text-anchor="middle" fill="#1a1a1a" font-weight="normal" >2.2</text>
<line x1="443.6" y1="872.2" x2="443.6" y2="874.4" stroke="#1a1a1a" stroke-width="1.1"/>
<line x1="489.5" y1="872.2" x2="489.5" y2="874.4" stroke="#1a1a1a" stroke-width="1.1"/>
<line x1="535.4" y1="872.2" x2="535.4" y2="874.4" stroke="#1a1a1a" stroke-width="1.1"/>
<line x1="581.2" y1="872.2" x2="581.2" y2="874.4" stroke="#1a1a1a" stroke-width="1.1"/>
<line x1="627.1" y1="872.2" x2="627.1" y2="874.4" stroke="#1a1a1a" stroke-width="1.1"/>
<line x1="673.0" y1="872.2" x2="673.0" y2="874.4" stroke="#1a1a1a" stroke-width="1.1"/>
<line x1="718.9" y1="872.2" x2="718.9" y2="874.4" stroke="#1a1a1a" stroke-width="1.1"/>
<line x1="416.4" y1="658.6" x2="420.4" y2="658.6" stroke="#1a1a1a" stroke-width="1.2"/>
<text x="412.0" y="663.1" font-size="13" text-anchor="end" fill="#1a1a1a" font-weight="normal" >0</text>
<line x1="416.4" y1="712.0" x2="420.4" y2="712.0" stroke="#1a1a1a" stroke-width="1.2"/>
<text x="412.0" y="716.5" font-size="13" text-anchor="end" fill="#1a1a1a" font-weight="normal" >-2</text>
<line x1="416.4" y1="765.4" x2="420.4" y2="765.4" stroke="#1a1a1a" stroke-width="1.2"/>
<text x="412.0" y="769.9" font-size="13" text-anchor="end" fill="#1a1a1a" font-weight="normal" >-4</text>
<line x1="416.4" y1="818.8" x2="420.4" y2="818.8" stroke="#1a1a1a" stroke-width="1.2"/>
<text x="412.0" y="823.3" font-size="13" text-anchor="end" fill="#1a1a1a" font-weight="normal" >-6</text>
<line x1="416.4" y1="872.2" x2="420.4" y2="872.2" stroke="#1a1a1a" stroke-width="1.2"/>
<text x="412.0" y="876.7" font-size="13" text-anchor="end" fill="#1a1a1a" font-weight="normal" >-8</text>
<line x1="418.2" y1="685.3" x2="420.4" y2="685.3" stroke="#1a1a1a" stroke-width="1.1"/>
<line x1="418.2" y1="738.7" x2="420.4" y2="738.7" stroke="#1a1a1a" stroke-width="1.1"/>
<line x1="418.2" y1="792.1" x2="420.4" y2="792.1" stroke="#1a1a1a" stroke-width="1.1"/>
<line x1="418.2" y1="845.5" x2="420.4" y2="845.5" stroke="#1a1a1a" stroke-width="1.1"/>
<text x="387.7" y="647.7" font-size="23.5" text-anchor="start" fill="#000" font-weight="bold" >f</text>
<text x="0" y="0" transform="translate(393.6,752.8) rotate(-90)" font-size="17" text-anchor="middle" fill="#1a1a1a" textLength="89" lengthAdjust="spacing">ln k (min<tspan baseline-shift="40%" font-size="70%">-1</tspan>)</text>
<text x="570.2" y="913" font-size="15" text-anchor="middle" fill="#1a1a1a" textLength="83" lengthAdjust="spacing">1000/T (K<tspan baseline-shift="40%" font-size="70%">-1</tspan>)</text>
<line x1="517.0" y1="654.6" x2="700.5" y2="753.4" stroke="#a3301e" stroke-width="3"/>
<circle cx="517.0" cy="653.3" r="5" fill="#a3301e"/>
<circle cx="515.5" cy="651.8" r="1.8" fill="#ffffff" opacity="0.45"/>
<circle cx="546.8" cy="669.3" r="5" fill="#a3301e"/>
<circle cx="545.3" cy="667.8" r="1.8" fill="#ffffff" opacity="0.45"/>
<circle cx="581.2" cy="688.0" r="5" fill="#a3301e"/>
<circle cx="579.7" cy="686.5" r="1.8" fill="#ffffff" opacity="0.45"/>
<circle cx="617.9" cy="710.7" r="5" fill="#a3301e"/>
<circle cx="616.4" cy="709.2" r="1.8" fill="#ffffff" opacity="0.45"/>
<circle cx="656.9" cy="738.7" r="5" fill="#a3301e"/>
<circle cx="655.4" cy="737.2" r="1.8" fill="#ffffff" opacity="0.45"/>
<circle cx="700.5" cy="752.1" r="5" fill="#a3301e"/>
<circle cx="699.0" cy="750.6" r="1.8" fill="#ffffff" opacity="0.45"/>
<line x1="517.0" y1="667.9" x2="581.2" y2="700.0" stroke="#9ad8c0" stroke-width="2.2"/>
<circle cx="517.0" cy="667.9" r="5" fill="#9ad8c0"/>
<circle cx="515.5" cy="666.4" r="1.8" fill="#ffffff" opacity="0.45"/>
<circle cx="546.8" cy="685.3" r="5" fill="#9ad8c0"/>
<circle cx="545.3" cy="683.8" r="1.8" fill="#ffffff" opacity="0.45"/>
<circle cx="581.2" cy="700.0" r="5" fill="#9ad8c0"/>
<circle cx="579.7" cy="698.5" r="1.8" fill="#ffffff" opacity="0.45"/>
<line x1="517.0" y1="684.0" x2="581.2" y2="736.0" stroke="#a8bce0" stroke-width="2.2"/>
<circle cx="517.0" cy="684.0" r="5" fill="#a8bce0"/>
<circle cx="515.5" cy="682.5" r="1.8" fill="#ffffff" opacity="0.45"/>
<circle cx="546.8" cy="717.3" r="5" fill="#a8bce0"/>
<circle cx="545.3" cy="715.8" r="1.8" fill="#ffffff" opacity="0.45"/>
<circle cx="581.2" cy="736.0" r="5" fill="#a8bce0"/>
<circle cx="579.7" cy="734.5" r="1.8" fill="#ffffff" opacity="0.45"/>
<line x1="517.0" y1="722.7" x2="581.2" y2="773.4" stroke="#f0c8a0" stroke-width="2.2"/>
<circle cx="517.0" cy="722.7" r="5" fill="#f0c8a0"/>
<circle cx="515.5" cy="721.2" r="1.8" fill="#ffffff" opacity="0.45"/>
<circle cx="546.8" cy="746.7" r="5" fill="#f0c8a0"/>
<circle cx="545.3" cy="745.2" r="1.8" fill="#ffffff" opacity="0.45"/>
<circle cx="581.2" cy="773.4" r="5" fill="#f0c8a0"/>
<circle cx="579.7" cy="771.9" r="1.8" fill="#ffffff" opacity="0.45"/>
<line x1="434.5" y1="784.1" x2="487.2" y2="842.8" stroke="#c0c0c0" stroke-width="2.2"/>
<circle cx="434.5" cy="784.1" r="5" fill="#c0c0c0"/>
<circle cx="433.0" cy="782.6" r="1.8" fill="#ffffff" opacity="0.45"/>
<circle cx="457.4" cy="804.1" r="5" fill="#c0c0c0"/>
<circle cx="455.9" cy="802.6" r="1.8" fill="#ffffff" opacity="0.45"/>
<circle cx="487.2" cy="842.8" r="5" fill="#c0c0c0"/>
<circle cx="485.7" cy="841.3" r="1.8" fill="#ffffff" opacity="0.45"/>
<text x="565.0" y="653.0" font-size="13.5" text-anchor="start" fill="#a0382a" font-weight="normal" >81.1 kJ·mol<tspan baseline-shift="40%" font-size="70%">-1</tspan></text>
<text x="565.0" y="671.0" font-size="13.5" text-anchor="start" fill="#a0382a" font-weight="normal" >Mg<tspan baseline-shift="-30%" font-size="70%">2</tspan>Ni@Ti-MgO</text>
<text x="431.0" y="670.5" font-size="13.5" text-anchor="start" fill="#3f7a68" font-weight="normal" >95.8 kJ·mol<tspan baseline-shift="40%" font-size="70%">-1</tspan></text>
<text x="431.0" y="689.0" font-size="13.5" text-anchor="start" fill="#3f7a68" font-weight="normal" >TiV-MgO</text>
<text x="436.0" y="708.0" font-size="13.5" text-anchor="start" fill="#4a5c88" font-weight="normal" >113.8 kJ·mol<tspan baseline-shift="40%" font-size="70%">-1</tspan></text>
<text x="436.0" y="726.0" font-size="13.5" text-anchor="start" fill="#4a5c88" font-weight="normal" >V-MgO</text>
<text x="461.0" y="753.0" font-size="13.5" text-anchor="start" fill="#a07848" font-weight="normal" >111 kJ·mol<tspan baseline-shift="40%" font-size="70%">-1</tspan></text>
<text x="461.0" y="771.0" font-size="13.5" text-anchor="start" fill="#a07848" font-weight="normal" >Mg<tspan baseline-shift="-30%" font-size="70%">2</tspan>Ni</text>
<text x="490.0" y="815.0" font-size="13.5" text-anchor="start" fill="#707070" font-weight="normal" >158.5 kJ·mol<tspan baseline-shift="40%" font-size="70%">-1</tspan></text>
<text x="490.0" y="833.0" font-size="13.5" text-anchor="start" fill="#707070" font-weight="normal" >MgH<tspan baseline-shift="-30%" font-size="70%">2</tspan></text>
<defs><clipPath id="gclip"><rect x="808.4" y="20.7" width="320.5" height="842.6"/></clipPath><filter id="blur1" x="-20%" y="-20%" width="140%" height="140%"><feGaussianBlur stdDeviation="1.1"/></filter></defs>
<g clip-path="url(#gclip)">
<path d="M877.0,60.9 L879.0,62.1 L881.0,63.6 L883.0,65.6 L884.9,68.1 L886.8,70.9 L888.8,74.2 L890.7,78.0 L892.6,82.2 L894.4,86.8 L896.2,91.4 L897.9,96.0 L899.5,100.5 L900.9,105.0 L902.3,109.5 L903.6,113.9 L904.7,118.3 L905.8,122.7 L906.7,127.3 L907.6,132.1 L908.4,137.1 L909.0,142.4 L909.6,147.8 L910.0,153.5 L910.4,159.4 L910.6,165.6 L910.8,171.7 L910.9,177.8 L910.9,183.9 L910.8,190.1 L910.6,196.2 L910.3,202.3 L910.0,208.4 L909.5,214.6 L909.0,220.7 L908.5,226.8 L907.9,232.9 L907.2,239.1 L906.5,245.2 L905.8,251.3 L904.9,257.4 L904.1,263.6 L903.2,269.7 L902.4,275.8 L901.6,281.9 L900.9,288.1 L900.2,294.2 L899.5,300.3 L898.8,306.4 L898.2,312.6 L897.4,319.4 L896.3,327.0 L895.1,335.3 L893.7,344.4 L892.0,354.2 L890.2,364.7 L888.1,376.0 L885.9,388.0 L883.5,400.2 L881.0,412.7 L878.4,425.3 L875.6,438.2 L872.8,451.3 L869.8,464.6 L866.6,478.1 L863.4,491.9 L860.3,505.0 L857.3,517.5 L854.5,529.4 L851.8,540.6 L849.2,551.2 L846.8,561.2 L844.6,570.6 L842.4,579.4 L840.4,587.8 L838.4,595.8 L836.4,603.6 L834.6,610.9 L832.8,618.0 L831.0,624.7 L829.3,631.0 L827.7,637.0 L826.1,642.1 L824.7,646.4 L823.3,649.8 L822.0,652.2 L820.7,653.9 L819.6,654.6 L818.5,654.5 L817.5,653.5 L816.6,651.2 L815.7,647.7 L815.0,642.8 L814.3,636.7 L813.7,629.3 L813.1,620.6 L812.7,610.6 L812.3,599.4 L812.0,587.0 L811.7,573.6 L811.5,559.1 L811.3,543.4 L811.1,526.7 L811.0,508.9 L811.0,490.0 L811.0,470.0 L811.0,450.7 L811.1,432.1 L811.2,414.2 L811.4,397.0 L811.6,380.5 L811.8,364.8 L812.1,349.7 L812.4,335.3 L812.7,322.0 L813.1,309.7 L813.4,298.4 L813.8,288.1 L814.2,278.9 L814.6,270.7 L815.0,263.6 L815.5,257.4 L815.9,251.3 L816.4,245.2 L816.9,239.1 L817.4,232.9 L817.9,226.8 L818.4,220.7 L819.0,214.6 L819.5,208.4 L820.1,202.3 L820.8,196.2 L821.5,190.1 L822.2,183.9 L822.9,177.8 L823.7,171.7 L824.6,165.6 L825.4,159.4 L826.4,153.5 L827.3,147.8 L828.3,142.4 L829.4,137.1 L830.5,132.1 L831.7,127.3 L832.9,122.7 L834.1,118.3 L835.5,113.9 L836.9,109.6 L838.4,105.2 L840.0,100.8 L841.7,96.4 L843.4,92.1 L845.3,87.7 L847.2,83.3 L849.2,79.3 L851.1,75.7 L853.1,72.4 L855.0,69.6 L857.0,67.1 L859.0,64.9 L861.0,63.2 L863.0,61.8 L865.0,60.8 L867.0,60.0 L869.0,59.6 L871.0,59.4 L873.0,59.6 L875.0,60.1 Z" fill="#ebebeb"/>
<path d="M872.1,286.4 L877.9,286.6 L883.5,286.9 L889.1,287.3 L894.5,287.9 L899.8,288.7 L905.1,289.6 L910.2,290.7 L915.2,292.0 L920.1,293.4 L924.8,294.9 L929.3,296.5 L933.6,298.2 L937.7,299.9 L941.6,301.7 L945.2,303.6 L948.7,305.6 L952.0,307.6 L955.1,309.7 L957.9,311.9 L960.6,314.1 L963.2,316.3 L965.5,318.6 L967.6,321.0 L969.6,323.4 L971.3,325.8 L972.9,328.3 L974.1,330.9 L975.2,333.5 L975.9,336.2 L976.5,339.0 L976.8,341.8 L976.8,344.7 L976.7,347.7 L976.2,350.8 L975.5,354.2 L974.5,357.7 L973.3,361.4 L971.8,365.4 L970.1,369.5 L968.1,373.8 L965.8,378.4 L963.4,382.9 L960.9,387.4 L958.3,391.9 L955.5,396.4 L952.6,400.9 L949.6,405.4 L946.4,409.9 L943.2,414.3 L939.8,418.9 L936.3,423.6 L932.7,428.4 L929.0,433.3 L925.3,438.3 L921.4,443.4 L917.4,448.6 L913.3,454.0 L909.2,459.2 L905.1,464.5 L901.1,469.6 L897.0,474.7 L892.9,479.8 L888.8,484.8 L884.7,489.8 L880.7,494.7 L876.8,499.2 L873.3,503.3 L870.0,507.1 L866.9,510.5 L864.1,513.5 L861.5,516.2 L859.2,518.5 L857.2,520.4 L855.2,522.1 L853.3,523.6 L851.4,525.0 L849.7,526.2 L848.0,527.2 L846.3,528.1 L844.8,528.8 L843.2,529.2 L841.8,529.6 L840.2,529.8 L838.8,529.8 L837.2,529.7 L835.8,529.4 L834.2,529.0 L832.8,528.4 L831.2,527.6 L829.8,526.6 L828.4,525.2 L827.0,523.6 L825.7,521.7 L824.5,519.4 L823.2,516.9 L822.1,514.1 L820.9,510.9 L819.9,506.6 L819.0,501.2 L818.2,494.5 L817.5,486.7 L817.0,477.7 L816.5,467.6 L816.1,456.2 L815.9,443.8 L815.7,431.7 L815.5,420.2 L815.4,409.1 L815.3,398.4 L815.3,388.3 L815.4,378.6 L815.4,369.4 L815.6,360.6 L815.8,352.5 L816.2,345.0 L816.8,338.1 L817.5,331.9 L818.3,326.2 L819.3,321.2 L820.4,316.9 L821.6,313.1 L823.1,309.6 L824.9,306.4 L826.9,303.4 L829.1,300.6 L831.6,298.1 L834.4,295.9 L837.4,293.9 L840.6,292.1 L844.2,290.6 L848.1,289.3 L852.2,288.3 L856.8,287.5 L861.6,286.9 L866.7,286.5 Z" fill="#a0a8d4" fill-opacity="0.34"/>
<path d="M861.4,282.8 L869.6,282.9 L877.0,283.1 L883.7,283.4 L889.8,283.9 L895.1,284.6 L899.8,285.4 L903.7,286.4 L907.0,287.6 L909.6,288.9 L912.0,290.5 L914.2,292.2 L916.3,294.2 L918.2,296.5 L920.0,299.0 L921.5,301.7 L922.9,304.7 L924.2,307.8 L925.2,311.0 L925.9,314.2 L926.4,317.5 L926.7,320.7 L926.7,323.9 L926.5,327.1 L926.1,330.4 L925.4,333.6 L924.5,337.3 L923.3,341.5 L921.8,346.1 L920.1,351.2 L918.1,356.7 L915.9,362.6 L913.4,369.1 L910.6,375.9 L907.8,382.8 L904.8,389.7 L901.6,396.6 L898.4,403.4 L895.0,410.3 L891.5,417.2 L887.9,424.1 L884.1,430.9 L880.5,437.7 L877.1,444.2 L873.8,450.6 L870.7,456.9 L867.7,463.0 L864.9,468.9 L862.2,474.7 L859.8,480.3 L857.3,485.6 L855.0,490.7 L852.7,495.4 L850.5,499.8 L848.4,504.0 L846.4,507.8 L844.4,511.4 L842.6,514.6 L840.7,517.5 L838.9,520.1 L837.0,522.3 L835.2,524.2 L833.4,525.7 L831.6,526.9 L829.9,527.8 L828.1,528.2 L826.4,528.5 L824.8,528.4 L823.2,528.0 L821.6,527.3 L820.1,526.3 L818.6,525.0 L817.2,523.4 L815.8,521.6 L814.6,518.1 L813.5,513.1 L812.5,506.6 L811.7,498.4 L811.0,488.8 L810.5,477.5 L810.1,464.7 L809.9,450.3 L809.7,436.3 L809.5,422.7 L809.3,409.5 L809.2,396.7 L809.1,384.3 L809.0,372.3 L809.0,360.6 L809.0,349.4 L809.1,339.2 L809.5,330.1 L809.9,322.1 L810.5,315.1 L811.2,309.2 L812.1,304.4 L813.2,300.6 L814.4,298.0 L815.7,295.5 L817.0,293.3 L818.5,291.4 L820.0,289.7 L821.5,288.2 L823.2,287.0 L824.9,286.0 L826.7,285.3 L829.3,284.6 L832.7,284.1 L836.8,283.6 L841.8,283.3 L847.6,283.0 L854.1,282.9 Z" fill="#c878b4" fill-opacity="0.34"/>
<path d="M1050.6,376.6 L1042.9,381.7 L1033.4,388.1 L1022.0,395.8 L1008.6,404.8 L993.4,415.0 L980.0,424.1 L968.6,432.0 L959.1,438.6 L951.4,443.9 L944.8,448.8 L939.1,453.0 L934.4,456.7 L930.6,459.9 L925.9,464.4 L920.3,470.3 L913.8,477.5 L906.2,486.1 L898.8,495.0 L891.4,504.4 L884.1,514.0 L876.9,524.0 L869.8,534.8 L862.9,546.2 L856.2,558.5 L849.6,571.5 L843.6,584.8 L838.0,598.2 L832.9,612.0 L828.4,626.0 L824.3,639.8 L820.9,653.4 L817.9,666.9 L815.6,680.1 L813.3,695.7 L811.1,713.6 L809.0,733.8 L807.0,756.2 L806.2,773.8 L806.6,786.2 L808.1,793.8 L810.9,796.2 L813.6,796.2 L816.2,793.8 L818.8,788.8 L821.2,781.2 L823.5,773.4 L825.4,765.0 L827.1,756.3 L828.4,747.3 L830.2,737.7 L832.3,727.7 L834.7,717.3 L837.6,706.3 L840.5,695.5 L843.6,684.9 L846.8,674.2 L850.1,663.8 L853.8,653.1 L858.1,642.2 L862.9,631.1 L868.1,619.9 L873.8,608.8 L879.8,597.8 L886.1,586.9 L892.9,576.1 L900.1,565.1 L907.9,553.7 L916.1,542.0 L924.9,530.0 L934.2,518.2 L944.2,506.8 L954.9,495.5 L966.1,484.5 L978.1,473.5 L990.9,462.5 L1004.4,451.5 L1018.6,440.5 L1031.2,430.8 L1042.1,422.2 L1051.2,415.0 L1058.8,409.0 L1064.9,403.6 L1069.6,398.7 L1073.0,394.4 L1075.0,390.6 L1075.5,386.8 L1074.5,382.9 L1072.0,379.0 L1068.0,375.0 L1063.1,373.3 L1057.3,373.8 Z" fill="#dde9e6"/>
<path d="M821.0,829.0 L821.0,828.5 L821.0,827.6 L821.1,826.3 L821.2,824.5 L821.2,822.2 L821.3,819.5 L821.4,816.3 L821.6,812.7 L821.7,809.0 L821.9,805.4 L822.1,801.7 L822.4,798.0 L822.7,794.3 L823.0,790.6 L823.3,786.9 L823.7,783.1 L824.1,779.3 L824.6,775.3 L825.0,771.3 L825.6,767.1 L826.1,762.9 L826.8,758.5 L827.4,754.1 L828.1,749.5 L828.9,744.9 L829.7,740.1 L830.7,735.2 L831.8,730.2 L832.9,725.1 L834.1,719.9 L835.4,714.5 L836.9,709.1 L838.3,703.6 L839.8,698.2 L841.3,692.9 L842.8,687.5 L844.4,682.2 L846.0,676.9 L847.6,671.6 L849.2,666.4 L851.0,661.1 L852.9,655.7 L854.9,650.3 L857.0,644.9 L859.3,639.4 L861.7,633.9 L864.2,628.3 L866.8,622.7 L869.5,617.1 L872.3,611.5 L875.2,606.0 L878.2,600.5 L881.3,595.0 L884.5,589.6 L887.8,584.2 L891.2,578.8 L894.7,573.4 L898.3,567.8 L902.1,562.2 L905.9,556.5 L909.9,550.8 L914.1,544.9 L918.3,539.0 L922.7,533.0 L927.2,527.1 L931.9,521.2 L936.8,515.4 L941.8,509.6 L946.9,503.9 L952.2,498.3 L957.7,492.8 L963.3,487.2 L969.1,481.8 L975.1,476.2 L981.3,470.8 L987.7,465.2 L994.2,459.8 L1001.0,454.2 L1007.9,448.8 L1015.1,443.2 L1022.3,437.8 L1029.6,432.5 L1037.1,427.3 L1044.7,422.2 L1052.3,417.2 L1060.1,412.2 L1068.0,407.4 L1076.0,402.6 L1083.0,398.5 L1089.0,394.9 L1094.0,391.9 L1098.0,389.6 L1101.0,387.8 L1103.0,386.6 L1104.0,386.0" fill="none" stroke="#ffffff" stroke-width="30" stroke-linecap="round" stroke-linejoin="round"/>
<path d="M821.0,829.0 L821.0,828.5 L821.0,827.6 L821.1,826.3 L821.2,824.5 L821.2,822.2 L821.3,819.5 L821.4,816.3 L821.6,812.7 L821.7,809.0 L821.9,805.4 L822.1,801.7 L822.4,798.0 L822.7,794.3 L823.0,790.6 L823.3,786.9 L823.7,783.1 L824.1,779.3 L824.6,775.3 L825.0,771.3 L825.6,767.1 L826.1,762.9 L826.8,758.5 L827.4,754.1 L828.1,749.5 L828.9,744.9 L829.7,740.1 L830.7,735.2 L831.8,730.2 L832.9,725.1 L834.1,719.9 L835.4,714.5 L836.9,709.1 L838.3,703.6 L839.8,698.2 L841.3,692.9 L842.8,687.5 L844.4,682.2 L846.0,676.9 L847.6,671.6 L849.2,666.4 L851.0,661.1 L852.9,655.7 L854.9,650.3 L857.0,644.9 L859.3,639.4 L861.7,633.9 L864.2,628.3 L866.8,622.7 L869.5,617.1 L872.3,611.5 L875.2,606.0 L878.2,600.5 L881.3,595.0 L884.5,589.6 L887.8,584.2 L891.2,578.8 L894.7,573.4 L898.3,567.8 L902.1,562.2 L905.9,556.5 L909.9,550.8 L914.1,544.9 L918.3,539.0 L922.7,533.0 L927.2,527.1 L931.9,521.2 L936.8,515.4 L941.8,509.6 L946.9,503.9 L952.2,498.3 L957.7,492.8 L963.3,487.2 L969.1,481.8 L975.1,476.2 L981.3,470.8 L987.7,465.2 L994.2,459.8 L1001.0,454.2 L1007.9,448.8 L1015.1,443.2 L1022.3,437.8 L1029.6,432.5 L1037.1,427.3 L1044.7,422.2 L1052.3,417.2 L1060.1,412.2 L1068.0,407.4 L1076.0,402.6 L1083.0,398.5 L1089.0,394.9 L1094.0,391.9 L1098.0,389.6 L1101.0,387.8 L1103.0,386.6 L1104.0,386.0" fill="none" stroke="#e6a47c" stroke-width="26" stroke-linecap="round" stroke-linejoin="round"/>
<circle cx="862.1" cy="84.6" r="5.2" fill="#ffffff" fill-opacity="0.25" stroke="#aaaaaa" stroke-width="2.9" stroke-opacity="1"/>
<circle cx="881.0" cy="84.6" r="5.2" fill="#ffffff" fill-opacity="0.25" stroke="#aaaaaa" stroke-width="2.9" stroke-opacity="1"/>
<circle cx="833.0" cy="192.5" r="5.2" fill="#ffffff" fill-opacity="0.25" stroke="#aaaaaa" stroke-width="2.9" stroke-opacity="1"/>
<circle cx="838.9" cy="192.5" r="5.2" fill="#ffffff" fill-opacity="0.25" stroke="#aaaaaa" stroke-width="2.9" stroke-opacity="1"/>
<circle cx="849.2" cy="192.5" r="5.2" fill="#ffffff" fill-opacity="0.25" stroke="#aaaaaa" stroke-width="2.9" stroke-opacity="1"/>
<circle cx="852.2" cy="192.5" r="5.2" fill="#ffffff" fill-opacity="0.25" stroke="#aaaaaa" stroke-width="2.9" stroke-opacity="1"/>
<circle cx="893.8" cy="192.5" r="5.2" fill="#ffffff" fill-opacity="0.25" stroke="#aaaaaa" stroke-width="2.9" stroke-opacity="1"/>
<circle cx="825.7" cy="214.5" r="5.2" fill="#ffffff" fill-opacity="0.25" stroke="#aaaaaa" stroke-width="2.9" stroke-opacity="1"/>
<circle cx="821.0" cy="625.6" r="5.2" fill="#ffffff" fill-opacity="0.25" stroke="#aaaaaa" stroke-width="2.9" stroke-opacity="1"/>
<circle cx="819.5" cy="301.0" r="5.2" fill="#ffffff" fill-opacity="0.25" stroke="#d878b8" stroke-width="2.9" stroke-opacity="1"/>
<circle cx="822.0" cy="301.0" r="5.2" fill="#ffffff" fill-opacity="0.25" stroke="#aaaaaa" stroke-width="2.9" stroke-opacity="1"/>
<circle cx="827.9" cy="301.0" r="5.2" fill="#ffffff" fill-opacity="0.25" stroke="#aaaaaa" stroke-width="2.9" stroke-opacity="1"/>
<circle cx="841.6" cy="301.0" r="5.2" fill="#ffffff" fill-opacity="0.25" stroke="#d878b8" stroke-width="2.9" stroke-opacity="1"/>
<circle cx="846.9" cy="301.0" r="5.2" fill="#ffffff" fill-opacity="0.25" stroke="#9090c8" stroke-width="2.9" stroke-opacity="1"/>
<circle cx="855.3" cy="301.0" r="5.2" fill="#ffffff" fill-opacity="0.25" stroke="#9090c8" stroke-width="2.9" stroke-opacity="1"/>
<circle cx="872.1" cy="301.0" r="5.2" fill="#ffffff" fill-opacity="0.25" stroke="#aaaaaa" stroke-width="2.9" stroke-opacity="1"/>
<circle cx="878.2" cy="301.0" r="5.2" fill="#ffffff" fill-opacity="0.25" stroke="#9090c8" stroke-width="2.9" stroke-opacity="1"/>
<circle cx="882.8" cy="301.0" r="5.2" fill="#ffffff" fill-opacity="0.25" stroke="#9090c8" stroke-width="2.9" stroke-opacity="1"/>
<circle cx="885.0" cy="301.0" r="5.2" fill="#ffffff" fill-opacity="0.25" stroke="#9090c8" stroke-width="2.9" stroke-opacity="1"/>
<circle cx="893.4" cy="301.0" r="5.2" fill="#ffffff" fill-opacity="0.25" stroke="#aaaaaa" stroke-width="2.9" stroke-opacity="1"/>
<circle cx="905.6" cy="301.0" r="5.2" fill="#ffffff" fill-opacity="0.25" stroke="#d878b8" stroke-width="2.9" stroke-opacity="1"/>
<circle cx="914.0" cy="301.0" r="5.2" fill="#ffffff" fill-opacity="0.25" stroke="#9090c8" stroke-width="2.9" stroke-opacity="1"/>
<circle cx="826.3" cy="344.3" r="5.2" fill="#ffffff" fill-opacity="0.25" stroke="#9090c8" stroke-width="2.9" stroke-opacity="1"/>
<circle cx="818.0" cy="409.2" r="5.2" fill="#ffffff" fill-opacity="0.25" stroke="#aaaaaa" stroke-width="2.9" stroke-opacity="1"/>
<circle cx="824.0" cy="409.2" r="5.2" fill="#ffffff" fill-opacity="0.25" stroke="#d878b8" stroke-width="2.9" stroke-opacity="1"/>
<circle cx="837.0" cy="409.2" r="5.2" fill="#ffffff" fill-opacity="0.25" stroke="#aaaaaa" stroke-width="2.9" stroke-opacity="1"/>
<circle cx="847.0" cy="409.2" r="5.2" fill="#ffffff" fill-opacity="0.25" stroke="#aaaaaa" stroke-width="2.9" stroke-opacity="1"/>
<circle cx="852.3" cy="409.2" r="5.2" fill="#ffffff" fill-opacity="0.25" stroke="#d878b8" stroke-width="2.9" stroke-opacity="1"/>
<circle cx="874.4" cy="409.2" r="5.2" fill="#ffffff" fill-opacity="0.25" stroke="#d878b8" stroke-width="2.9" stroke-opacity="1"/>
<circle cx="881.2" cy="409.2" r="5.2" fill="#ffffff" fill-opacity="0.25" stroke="#9090c8" stroke-width="2.9" stroke-opacity="1"/>
<circle cx="945.5" cy="387.6" r="5.2" fill="#ffffff" fill-opacity="0.25" stroke="#9090c8" stroke-width="2.9" stroke-opacity="1"/>
<circle cx="826.7" cy="474.1" r="5.2" fill="#ffffff" fill-opacity="0.25" stroke="#d878b8" stroke-width="2.9" stroke-opacity="1"/>
<circle cx="843.6" cy="474.1" r="5.2" fill="#ffffff" fill-opacity="0.25" stroke="#9090c8" stroke-width="2.9" stroke-opacity="1"/>
<circle cx="850.4" cy="474.1" r="5.2" fill="#ffffff" fill-opacity="0.25" stroke="#9090c8" stroke-width="2.9" stroke-opacity="1"/>
<circle cx="887.9" cy="474.1" r="5.2" fill="#ffffff" fill-opacity="0.25" stroke="#9090c8" stroke-width="2.9" stroke-opacity="1"/>
<circle cx="819.8" cy="517.4" r="5.2" fill="#ffffff" fill-opacity="0.25" stroke="#d878b8" stroke-width="2.9" stroke-opacity="1"/>
<circle cx="827.7" cy="517.4" r="5.2" fill="#ffffff" fill-opacity="0.25" stroke="#d878b8" stroke-width="2.9" stroke-opacity="1"/>
<circle cx="834.6" cy="517.4" r="5.2" fill="#ffffff" fill-opacity="0.25" stroke="#d878b8" stroke-width="2.9" stroke-opacity="1"/>
<circle cx="840.4" cy="517.4" r="5.2" fill="#ffffff" fill-opacity="0.25" stroke="#9090c8" stroke-width="2.9" stroke-opacity="1"/>
<circle cx="830.7" cy="647.8" r="5.2" fill="#ffffff" fill-opacity="0.25" stroke="#70c0a2" stroke-width="2.9" stroke-opacity="1"/>
<circle cx="880.0" cy="560.2" r="5.2" fill="#ffffff" fill-opacity="0.25" stroke="#70c0a2" stroke-width="2.9" stroke-opacity="1"/>
<circle cx="933.3" cy="474.2" r="5.2" fill="#ffffff" fill-opacity="0.25" stroke="#70c0a2" stroke-width="2.9" stroke-opacity="1"/>
<circle cx="1065.0" cy="388.0" r="5.2" fill="#ffffff" fill-opacity="0.25" stroke="#70c0a2" stroke-width="2.9" stroke-opacity="1"/>
<path d="M821.6,810.2 L824.2,817.0 L831.5,817.4 L825.9,822.0 L827.7,829.0 L821.6,825.1 L815.5,829.0 L817.3,822.0 L811.7,817.4 L819.0,817.0Z" fill="#e8501a"/>
<path d="M825.1,723.8 L827.7,730.6 L835.0,731.0 L829.4,735.6 L831.2,742.6 L825.1,738.7 L819.0,742.6 L820.8,735.6 L815.2,731.0 L822.5,730.6Z" fill="#e8501a"/>
<path d="M851.6,637.4 L854.2,644.2 L861.5,644.6 L855.9,649.2 L857.7,656.2 L851.6,652.3 L845.5,656.2 L847.3,649.2 L841.7,644.6 L849.0,644.2Z" fill="#e8501a"/>
<path d="M899.7,549.8 L902.3,556.6 L909.6,557.0 L904.0,561.6 L905.8,568.6 L899.7,564.7 L893.6,568.6 L895.4,561.6 L889.8,557.0 L897.1,556.6Z" fill="#e8501a"/>
<path d="M985.7,463.7 L988.3,470.5 L995.6,470.9 L990.0,475.5 L991.8,482.5 L985.7,478.6 L979.6,482.5 L981.4,475.5 L975.8,470.9 L983.1,470.5Z" fill="#e8501a"/>
<path d="M1101.0,376.9 L1103.6,383.7 L1110.9,384.1 L1105.3,388.7 L1107.1,395.7 L1101.0,391.8 L1094.9,395.7 L1096.7,388.7 L1091.1,384.1 L1098.4,383.7Z" fill="#e8501a"/>
</g>
<rect x="807.7" y="20.0" width="321.9" height="844.0" fill="none" stroke="#1a1a1a" stroke-width="1.3"/>
<line x1="818.0" y1="864.0" x2="818.0" y2="868.0" stroke="#1a1a1a" stroke-width="1.2"/>
<text x="818.0" y="882.8" font-size="12.5" text-anchor="middle" fill="#1a1a1a" font-weight="normal" >0</text>
<line x1="921.7" y1="864.0" x2="921.7" y2="868.0" stroke="#1a1a1a" stroke-width="1.2"/>
<text x="921.7" y="882.8" font-size="12.5" text-anchor="middle" fill="#1a1a1a" font-weight="normal" >1</text>
<line x1="1025.4" y1="864.0" x2="1025.4" y2="868.0" stroke="#1a1a1a" stroke-width="1.2"/>
<text x="1025.4" y="882.8" font-size="12.5" text-anchor="middle" fill="#1a1a1a" font-weight="normal" >2</text>
<line x1="1129.1" y1="864.0" x2="1129.1" y2="868.0" stroke="#1a1a1a" stroke-width="1.2"/>
<text x="1129.1" y="882.8" font-size="12.5" text-anchor="middle" fill="#1a1a1a" font-weight="normal" >3</text>
<line x1="869.9" y1="864.0" x2="869.9" y2="866.2" stroke="#1a1a1a" stroke-width="1.1"/>
<line x1="973.5" y1="864.0" x2="973.5" y2="866.2" stroke="#1a1a1a" stroke-width="1.1"/>
<line x1="1077.2" y1="864.0" x2="1077.2" y2="866.2" stroke="#1a1a1a" stroke-width="1.1"/>
<line x1="803.7" y1="820.3" x2="807.7" y2="820.3" stroke="#1a1a1a" stroke-width="1.2"/>
<text x="800.0" y="824.9" font-size="13.5" text-anchor="end" fill="#1a1a1a" font-weight="normal" >180</text>
<line x1="803.7" y1="733.8" x2="807.7" y2="733.8" stroke="#1a1a1a" stroke-width="1.2"/>
<text x="800.0" y="738.4" font-size="13.5" text-anchor="end" fill="#1a1a1a" font-weight="normal" >200</text>
<line x1="803.7" y1="647.2" x2="807.7" y2="647.2" stroke="#1a1a1a" stroke-width="1.2"/>
<text x="800.0" y="651.8" font-size="13.5" text-anchor="end" fill="#1a1a1a" font-weight="normal" >220</text>
<line x1="803.7" y1="560.6" x2="807.7" y2="560.6" stroke="#1a1a1a" stroke-width="1.2"/>
<text x="800.0" y="565.2" font-size="13.5" text-anchor="end" fill="#1a1a1a" font-weight="normal" >240</text>
<line x1="803.7" y1="474.1" x2="807.7" y2="474.1" stroke="#1a1a1a" stroke-width="1.2"/>
<text x="800.0" y="478.7" font-size="13.5" text-anchor="end" fill="#1a1a1a" font-weight="normal" >260</text>
<line x1="803.7" y1="387.6" x2="807.7" y2="387.6" stroke="#1a1a1a" stroke-width="1.2"/>
<text x="800.0" y="392.2" font-size="13.5" text-anchor="end" fill="#1a1a1a" font-weight="normal" >280</text>
<line x1="803.7" y1="301.0" x2="807.7" y2="301.0" stroke="#1a1a1a" stroke-width="1.2"/>
<text x="800.0" y="305.6" font-size="13.5" text-anchor="end" fill="#1a1a1a" font-weight="normal" >300</text>
<line x1="803.7" y1="214.5" x2="807.7" y2="214.5" stroke="#1a1a1a" stroke-width="1.2"/>
<text x="800.0" y="219.1" font-size="13.5" text-anchor="end" fill="#1a1a1a" font-weight="normal" >320</text>
<line x1="803.7" y1="127.9" x2="807.7" y2="127.9" stroke="#1a1a1a" stroke-width="1.2"/>
<text x="800.0" y="132.5" font-size="13.5" text-anchor="end" fill="#1a1a1a" font-weight="normal" >340</text>
<line x1="803.7" y1="41.4" x2="807.7" y2="41.4" stroke="#1a1a1a" stroke-width="1.2"/>
<text x="800.0" y="46.0" font-size="13.5" text-anchor="end" fill="#1a1a1a" font-weight="normal" >360</text>
<line x1="805.5" y1="820.3" x2="807.7" y2="820.3" stroke="#1a1a1a" stroke-width="1.1"/>
<line x1="805.5" y1="733.8" x2="807.7" y2="733.8" stroke="#1a1a1a" stroke-width="1.1"/>
<line x1="805.5" y1="647.2" x2="807.7" y2="647.2" stroke="#1a1a1a" stroke-width="1.1"/>
<line x1="805.5" y1="560.6" x2="807.7" y2="560.6" stroke="#1a1a1a" stroke-width="1.1"/>
<line x1="805.5" y1="474.1" x2="807.7" y2="474.1" stroke="#1a1a1a" stroke-width="1.1"/>
<line x1="805.5" y1="387.6" x2="807.7" y2="387.6" stroke="#1a1a1a" stroke-width="1.1"/>
<line x1="805.5" y1="301.0" x2="807.7" y2="301.0" stroke="#1a1a1a" stroke-width="1.1"/>
<line x1="805.5" y1="214.5" x2="807.7" y2="214.5" stroke="#1a1a1a" stroke-width="1.1"/>
<line x1="805.5" y1="127.9" x2="807.7" y2="127.9" stroke="#1a1a1a" stroke-width="1.1"/>
<line x1="805.5" y1="41.4" x2="807.7" y2="41.4" stroke="#1a1a1a" stroke-width="1.1"/>
<text x="749.8" y="31.5" font-size="23.5" text-anchor="start" fill="#000" font-weight="bold" >g</text>
<text x="0" y="0" transform="translate(770.0,441.0) rotate(-90)" font-size="15.5" text-anchor="middle" fill="#1a1a1a" textLength="129" lengthAdjust="spacing">Temperature (°C)</text>
<text x="969.0" y="903.3" font-size="14.5" text-anchor="middle" fill="#1a1a1a" font-weight="normal"  textLength="206.5" lengthAdjust="spacing">Desorption rate (wt.%·min<tspan baseline-shift="40%" font-size="70%">-1</tspan>)</text>
<path d="M871.5,752.8 L874.3,759.9 L881.9,760.3 L876.0,765.1 L877.9,772.5 L871.5,768.4 L865.1,772.5 L867.0,765.1 L861.1,760.3 L868.7,759.9Z" fill="#f04a10"/>
<text x="890.5" y="769.4" font-size="16.1" text-anchor="start" fill="#e0202a" font-weight="normal"  textLength="70" lengthAdjust="spacing">This work</text>
<circle cx="871.5" cy="785.5" r="5.4" fill="#ffffff" fill-opacity="0.25" stroke="#70c0a2" stroke-width="2.6" stroke-opacity="1"/>
<text x="890.5" y="790.1" font-size="16.3" text-anchor="start" fill="#3a8a6a" font-weight="normal"  textLength="66" lengthAdjust="spacing">TiV-MgO</text>
<text x="960.2" y="790.1" font-size="13.7" text-anchor="start" fill="#4a9a7a" font-weight="normal"  textLength="52.8" lengthAdjust="spacing">(Ref. 7c)</text>
<circle cx="871.5" cy="805.4" r="5.4" fill="#ffffff" fill-opacity="0.25" stroke="#9090c8" stroke-width="2.6" stroke-opacity="1"/>
<text x="890.5" y="810.2" font-size="16.3" text-anchor="start" fill="#4a5aa0" font-weight="normal"  textLength="34.2" lengthAdjust="spacing">ETM</text>
<text x="934.2" y="810.2" font-size="13.7" text-anchor="start" fill="#5a6ab0" font-weight="normal"  textLength="158.5" lengthAdjust="spacing">(Ref. 6c, 6d, 7b, 7d, 9, 15)</text>
<circle cx="871.5" cy="825.6" r="5.4" fill="#ffffff" fill-opacity="0.25" stroke="#d878b8" stroke-width="2.6" stroke-opacity="1"/>
<text x="890.5" y="830.3" font-size="16.3" text-anchor="start" fill="#c02090" font-weight="normal"  textLength="37.4" lengthAdjust="spacing">MTM</text>
<text x="936.3" y="830.3" font-size="13.7" text-anchor="start" fill="#c03090" font-weight="normal"  textLength="52.9" lengthAdjust="spacing">(Ref. 16)</text>
<circle cx="871.5" cy="846.1" r="5.4" fill="#ffffff" fill-opacity="0.25" stroke="#aaaaaa" stroke-width="2.6" stroke-opacity="1"/>
<text x="890.5" y="851.0" font-size="16.3" text-anchor="start" fill="#808080" font-weight="normal"  textLength="33.2" lengthAdjust="spacing">LTM</text>
<text x="934.2" y="851.0" font-size="13.7" text-anchor="start" fill="#8a8a8a" font-weight="normal"  textLength="72.9" lengthAdjust="spacing">(Ref. 17,18)</text>
<rect x="941.2" y="23.8" width="184.2" height="148.7" fill="#fff" stroke="#1a1a1a" stroke-width="1.1"/>
<line x1="937.8" y1="172.5" x2="941.2" y2="172.5" stroke="#1a1a1a" stroke-width="1"/>
<text x="936.5" y="175.6" font-size="8.8" text-anchor="end" fill="#333" font-weight="normal" >0</text>
<line x1="937.8" y1="148.5" x2="941.2" y2="148.5" stroke="#1a1a1a" stroke-width="1"/>
<text x="936.5" y="151.6" font-size="8.8" text-anchor="end" fill="#333" font-weight="normal" >5</text>
<line x1="937.8" y1="124.5" x2="941.2" y2="124.5" stroke="#1a1a1a" stroke-width="1"/>
<text x="936.5" y="127.6" font-size="8.8" text-anchor="end" fill="#333" font-weight="normal" >10</text>
<line x1="937.8" y1="100.5" x2="941.2" y2="100.5" stroke="#1a1a1a" stroke-width="1"/>
<text x="936.5" y="103.6" font-size="8.8" text-anchor="end" fill="#333" font-weight="normal" >15</text>
<line x1="937.8" y1="76.6" x2="941.2" y2="76.6" stroke="#1a1a1a" stroke-width="1"/>
<text x="936.5" y="79.7" font-size="8.8" text-anchor="end" fill="#333" font-weight="normal" >20</text>
<line x1="937.8" y1="52.6" x2="941.2" y2="52.6" stroke="#1a1a1a" stroke-width="1"/>
<text x="936.5" y="55.7" font-size="8.8" text-anchor="end" fill="#333" font-weight="normal" >25</text>
<line x1="937.8" y1="28.6" x2="941.2" y2="28.6" stroke="#1a1a1a" stroke-width="1"/>
<text x="936.5" y="31.7" font-size="8.8" text-anchor="end" fill="#333" font-weight="normal" >30</text>
<line x1="939.2" y1="160.5" x2="941.2" y2="160.5" stroke="#1a1a1a" stroke-width="0.7"/>
<line x1="939.2" y1="136.5" x2="941.2" y2="136.5" stroke="#1a1a1a" stroke-width="0.7"/>
<line x1="939.2" y1="112.5" x2="941.2" y2="112.5" stroke="#1a1a1a" stroke-width="0.7"/>
<line x1="939.2" y1="88.6" x2="941.2" y2="88.6" stroke="#1a1a1a" stroke-width="0.7"/>
<line x1="939.2" y1="64.6" x2="941.2" y2="64.6" stroke="#1a1a1a" stroke-width="0.7"/>
<line x1="939.2" y1="40.6" x2="941.2" y2="40.6" stroke="#1a1a1a" stroke-width="0.7"/>
<line x1="987.7" y1="172.5" x2="987.7" y2="175.5" stroke="#1a1a1a" stroke-width="1"/>
<line x1="1079.5" y1="172.5" x2="1079.5" y2="175.5" stroke="#1a1a1a" stroke-width="1"/>
<rect x="978.5" y="151.1" width="18.4" height="21.4" fill="#c0c0c0"/>
<rect x="1070.3" y="42.5" width="18.4" height="130" fill="#f04000"/>
<path d="M981.5,147.5 L1040.8,65.9 L1034.0,60.7 L1068.4,39.2 L1056.2,77.9 L1049.5,72.7 L985.5,150.5Z" fill="#b0d8f8" stroke="#b0d8f8" stroke-width="3.5" stroke-linejoin="round" filter="url(#blur1)"/>
<path d="M981.5,147.5 L1040.8,65.9 L1034.0,60.7 L1068.4,39.2 L1056.2,77.9 L1049.5,72.7 L985.5,150.5Z" fill="#98c4ec" filter="url(#blur1)"/>
<text x="951.7" y="42.7" font-size="12" text-anchor="start" fill="#1a1a1a" font-weight="normal"  textLength="89" lengthAdjust="spacing">6 Times (220℃)</text>
<text x="987.7" y="186.0" font-size="11.2" text-anchor="middle" fill="#1a1a1a" font-weight="normal"  textLength="45" lengthAdjust="spacing">TiV-MgO</text>
<text x="1079.5" y="186.0" font-size="11.2" text-anchor="middle" fill="#1a1a1a" font-weight="normal"  textLength="76" lengthAdjust="spacing">Mg<tspan baseline-shift="-30%" font-size="70%">2</tspan>Ni@Ti-MgO</text>
<text x="0" y="0" transform="translate(924,95.8) rotate(-90)" font-size="11.8" text-anchor="middle" fill="#1a1a1a" textLength="144" lengthAdjust="spacing">R rate constant (10<tspan baseline-shift="40%" font-size="70%">-2</tspan>·min<tspan baseline-shift="40%" font-size="70%">-1</tspan>)</text>
</svg></body></html>
